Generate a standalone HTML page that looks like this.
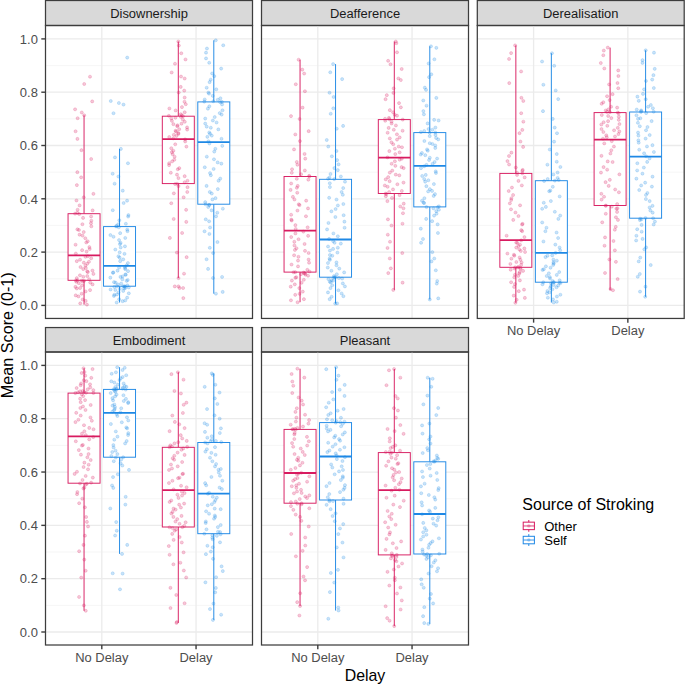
<!DOCTYPE html>
<html><head><meta charset="utf-8"><title>Boxplot</title>
<style>
html,body{margin:0;padding:0;background:#fff;}
svg{display:block;}
text{font-family:"Liberation Sans",sans-serif;}
</style></head><body>
<svg width="685" height="685" viewBox="0 0 685 685">
<rect x="0" y="0" width="685" height="685" fill="#fff"/>

<rect x="45.5" y="0.5" width="207" height="25" fill="#D9D9D9" stroke="#3d3d3d" stroke-width="1.25"/>
<text transform="translate(149,18) scale(1,1.045)" font-size="12.95" fill="#1A1A1A" text-anchor="middle">Disownership</text>
<line x1="45.5" x2="252.5" y1="278.75" y2="278.75" stroke="#F2F2F2" stroke-width="0.7"/>
<line x1="45.5" x2="252.5" y1="225.45" y2="225.45" stroke="#F2F2F2" stroke-width="0.7"/>
<line x1="45.5" x2="252.5" y1="172.15" y2="172.15" stroke="#F2F2F2" stroke-width="0.7"/>
<line x1="45.5" x2="252.5" y1="118.85" y2="118.85" stroke="#F2F2F2" stroke-width="0.7"/>
<line x1="45.5" x2="252.5" y1="65.55" y2="65.55" stroke="#F2F2F2" stroke-width="0.7"/>
<line x1="45.5" x2="252.5" y1="305.4" y2="305.4" stroke="#EBEBEB" stroke-width="1.3"/>
<line x1="45.5" x2="252.5" y1="252.1" y2="252.1" stroke="#EBEBEB" stroke-width="1.3"/>
<line x1="45.5" x2="252.5" y1="198.8" y2="198.8" stroke="#EBEBEB" stroke-width="1.3"/>
<line x1="45.5" x2="252.5" y1="145.5" y2="145.5" stroke="#EBEBEB" stroke-width="1.3"/>
<line x1="45.5" x2="252.5" y1="92.2" y2="92.2" stroke="#EBEBEB" stroke-width="1.3"/>
<line x1="45.5" x2="252.5" y1="38.9" y2="38.9" stroke="#EBEBEB" stroke-width="1.3"/>
<line x1="101.8" x2="101.8" y1="25.5" y2="318.45" stroke="#EBEBEB" stroke-width="1.3"/>
<line x1="196.05" x2="196.05" y1="25.5" y2="318.45" stroke="#EBEBEB" stroke-width="1.3"/>
<g stroke="#D81B60" fill="none" stroke-width="0.95">
<line x1="84.05" x2="84.05" y1="115.3" y2="213.7"/>
<line x1="84.05" x2="84.05" y1="280.3" y2="304.6"/>
<rect x="68.05" y="213.7" width="32" height="66.6" fill="#fff"/>
<line x1="68.05" x2="100.05" y1="255.3" y2="255.3" stroke-width="1.8"/>
</g>
<g stroke="#1E88E5" fill="none" stroke-width="0.95">
<line x1="119.55" x2="119.55" y1="148.9" y2="226.6"/>
<line x1="119.55" x2="119.55" y1="286.2" y2="302.5"/>
<rect x="103.55" y="226.6" width="32" height="59.6" fill="#fff"/>
<line x1="103.55" x2="135.55" y1="265.9" y2="265.9" stroke-width="1.8"/>
</g>
<g stroke="#D81B60" fill="none" stroke-width="0.95">
<line x1="178.3" x2="178.3" y1="41.5" y2="116.2"/>
<line x1="178.3" x2="178.3" y1="183.6" y2="278.1"/>
<rect x="162.3" y="116.2" width="32" height="67.4" fill="#fff"/>
<line x1="162.3" x2="194.3" y1="139.1" y2="139.1" stroke-width="1.8"/>
</g>
<g stroke="#1E88E5" fill="none" stroke-width="0.95">
<line x1="213.8" x2="213.8" y1="40.3" y2="101.9"/>
<line x1="213.8" x2="213.8" y1="204.2" y2="293.7"/>
<rect x="197.8" y="101.9" width="32" height="102.3" fill="#fff"/>
<line x1="197.8" x2="229.8" y1="142.2" y2="142.2" stroke-width="1.8"/>
</g>
<g fill="#D81B60" fill-opacity="0.24" stroke="#D81B60" stroke-opacity="0.3" stroke-width="0.6">
<circle cx="77.42" cy="280.31" r="1.55"/>
<circle cx="75.93" cy="280.45" r="1.55"/>
<circle cx="81.5" cy="280.65" r="1.55"/>
<circle cx="84.19" cy="280.83" r="1.55"/>
<circle cx="82.79" cy="281.22" r="1.55"/>
<circle cx="76.27" cy="281.74" r="1.55"/>
<circle cx="90.26" cy="282.58" r="1.55"/>
<circle cx="78.79" cy="283.13" r="1.55"/>
<circle cx="92.56" cy="284.39" r="1.55"/>
<circle cx="82.09" cy="285.35" r="1.55"/>
<circle cx="75.44" cy="286.88" r="1.55"/>
<circle cx="80.05" cy="288" r="1.55"/>
<circle cx="76.79" cy="288.47" r="1.55"/>
<circle cx="90.06" cy="290.09" r="1.55"/>
<circle cx="85.6" cy="291.43" r="1.55"/>
<circle cx="81.63" cy="293.75" r="1.55"/>
<circle cx="75.74" cy="295.38" r="1.55"/>
<circle cx="78.46" cy="296.42" r="1.55"/>
<circle cx="82.67" cy="299.49" r="1.55"/>
<circle cx="85.68" cy="300.89" r="1.55"/>
<circle cx="80.25" cy="303.36" r="1.55"/>
<circle cx="87.83" cy="256.21" r="1.55"/>
<circle cx="85.46" cy="256.81" r="1.55"/>
<circle cx="91.18" cy="258.3" r="1.55"/>
<circle cx="80.02" cy="259.71" r="1.55"/>
<circle cx="76.79" cy="261.17" r="1.55"/>
<circle cx="88.94" cy="261.76" r="1.55"/>
<circle cx="83.84" cy="262.67" r="1.55"/>
<circle cx="87.25" cy="263.73" r="1.55"/>
<circle cx="85.44" cy="265.7" r="1.55"/>
<circle cx="80.51" cy="267.01" r="1.55"/>
<circle cx="85.84" cy="268.01" r="1.55"/>
<circle cx="83.22" cy="269.08" r="1.55"/>
<circle cx="92.5" cy="270.55" r="1.55"/>
<circle cx="87.17" cy="271.34" r="1.55"/>
<circle cx="87.88" cy="272.09" r="1.55"/>
<circle cx="93.42" cy="273.91" r="1.55"/>
<circle cx="79.96" cy="275.29" r="1.55"/>
<circle cx="87.25" cy="276.01" r="1.55"/>
<circle cx="83.32" cy="276.81" r="1.55"/>
<circle cx="76.77" cy="278.16" r="1.55"/>
<circle cx="89.15" cy="279.23" r="1.55"/>
<circle cx="79.25" cy="214.03" r="1.55"/>
<circle cx="91.11" cy="216.48" r="1.55"/>
<circle cx="83.08" cy="217.9" r="1.55"/>
<circle cx="91.33" cy="220.72" r="1.55"/>
<circle cx="90.97" cy="223.18" r="1.55"/>
<circle cx="82.44" cy="224.2" r="1.55"/>
<circle cx="91.35" cy="226.32" r="1.55"/>
<circle cx="77.42" cy="229.37" r="1.55"/>
<circle cx="78.96" cy="229.96" r="1.55"/>
<circle cx="83.76" cy="232.04" r="1.55"/>
<circle cx="79.54" cy="234.66" r="1.55"/>
<circle cx="82.51" cy="235.6" r="1.55"/>
<circle cx="85.31" cy="238.23" r="1.55"/>
<circle cx="87.67" cy="241.25" r="1.55"/>
<circle cx="86.28" cy="242.45" r="1.55"/>
<circle cx="75.58" cy="244.72" r="1.55"/>
<circle cx="89.37" cy="247.1" r="1.55"/>
<circle cx="89.71" cy="249.03" r="1.55"/>
<circle cx="82.13" cy="250.16" r="1.55"/>
<circle cx="86.6" cy="251.62" r="1.55"/>
<circle cx="75.83" cy="253.53" r="1.55"/>
<circle cx="77.63" cy="118.2" r="1.55"/>
<circle cx="75.55" cy="131.27" r="1.55"/>
<circle cx="77.42" cy="138.9" r="1.55"/>
<circle cx="81.46" cy="150.15" r="1.55"/>
<circle cx="91.16" cy="159.02" r="1.55"/>
<circle cx="77.37" cy="172.15" r="1.55"/>
<circle cx="81.15" cy="177.36" r="1.55"/>
<circle cx="76.88" cy="185.12" r="1.55"/>
<circle cx="93.42" cy="193.85" r="1.55"/>
<circle cx="83.74" cy="197.31" r="1.55"/>
<circle cx="76.49" cy="200.44" r="1.55"/>
<circle cx="79.58" cy="205.42" r="1.55"/>
<circle cx="77.62" cy="209.75" r="1.55"/>
<circle cx="92.62" cy="210.4" r="1.55"/>
<circle cx="77.34" cy="212.86" r="1.55"/>
<circle cx="75.06" cy="213.62" r="1.55"/>
<circle cx="84.22" cy="115.3" r="1.55"/>
<circle cx="86.92" cy="304.6" r="1.55"/>
<circle cx="90" cy="76.7" r="1.55"/>
<circle cx="84.2" cy="84" r="1.55"/>
<circle cx="92.2" cy="101.4" r="1.55"/>
<circle cx="75.1" cy="109.3" r="1.55"/>
<circle cx="81.8" cy="112.5" r="1.55"/>
</g>
<g fill="#1E88E5" fill-opacity="0.24" stroke="#1E88E5" stroke-opacity="0.3" stroke-width="0.6">
<circle cx="123.28" cy="286.23" r="1.55"/>
<circle cx="117.02" cy="286.26" r="1.55"/>
<circle cx="124.72" cy="286.38" r="1.55"/>
<circle cx="124.85" cy="286.66" r="1.55"/>
<circle cx="114.29" cy="286.9" r="1.55"/>
<circle cx="128.76" cy="287.43" r="1.55"/>
<circle cx="125.37" cy="287.92" r="1.55"/>
<circle cx="124.11" cy="288.44" r="1.55"/>
<circle cx="119.89" cy="288.72" r="1.55"/>
<circle cx="110.6" cy="289.45" r="1.55"/>
<circle cx="115.36" cy="289.95" r="1.55"/>
<circle cx="123.21" cy="290.91" r="1.55"/>
<circle cx="118.55" cy="292.36" r="1.55"/>
<circle cx="128.82" cy="293.33" r="1.55"/>
<circle cx="116.98" cy="294.42" r="1.55"/>
<circle cx="114.36" cy="294.79" r="1.55"/>
<circle cx="113.93" cy="295.93" r="1.55"/>
<circle cx="127.16" cy="297.66" r="1.55"/>
<circle cx="119.16" cy="299.27" r="1.55"/>
<circle cx="125.24" cy="300.45" r="1.55"/>
<circle cx="122.6" cy="301.17" r="1.55"/>
<circle cx="124.91" cy="266.74" r="1.55"/>
<circle cx="119.13" cy="267.57" r="1.55"/>
<circle cx="125.04" cy="268.04" r="1.55"/>
<circle cx="125.27" cy="269.14" r="1.55"/>
<circle cx="117.57" cy="270.66" r="1.55"/>
<circle cx="128.04" cy="271.13" r="1.55"/>
<circle cx="113.28" cy="272.38" r="1.55"/>
<circle cx="112.92" cy="272.83" r="1.55"/>
<circle cx="125.37" cy="274.47" r="1.55"/>
<circle cx="125.75" cy="274.78" r="1.55"/>
<circle cx="122.54" cy="276.47" r="1.55"/>
<circle cx="120.47" cy="276.89" r="1.55"/>
<circle cx="110.32" cy="277.66" r="1.55"/>
<circle cx="122.39" cy="279.36" r="1.55"/>
<circle cx="127.79" cy="279.94" r="1.55"/>
<circle cx="126.61" cy="280.83" r="1.55"/>
<circle cx="114.06" cy="282.13" r="1.55"/>
<circle cx="115.62" cy="282.6" r="1.55"/>
<circle cx="121.19" cy="283.56" r="1.55"/>
<circle cx="118.01" cy="284.54" r="1.55"/>
<circle cx="127.34" cy="285.4" r="1.55"/>
<circle cx="118.76" cy="227.29" r="1.55"/>
<circle cx="127.23" cy="229.55" r="1.55"/>
<circle cx="127.49" cy="231.14" r="1.55"/>
<circle cx="120.15" cy="233.15" r="1.55"/>
<circle cx="110.41" cy="235.06" r="1.55"/>
<circle cx="113.53" cy="236.79" r="1.55"/>
<circle cx="125.23" cy="237.93" r="1.55"/>
<circle cx="119.05" cy="240.08" r="1.55"/>
<circle cx="120.62" cy="242.89" r="1.55"/>
<circle cx="119.9" cy="244.09" r="1.55"/>
<circle cx="124.95" cy="246.34" r="1.55"/>
<circle cx="120.7" cy="247.46" r="1.55"/>
<circle cx="115.31" cy="249.57" r="1.55"/>
<circle cx="119.7" cy="252.32" r="1.55"/>
<circle cx="124.49" cy="253.84" r="1.55"/>
<circle cx="118.47" cy="256.3" r="1.55"/>
<circle cx="119.66" cy="257.67" r="1.55"/>
<circle cx="123.21" cy="259.37" r="1.55"/>
<circle cx="120.18" cy="261.14" r="1.55"/>
<circle cx="127.94" cy="263.06" r="1.55"/>
<circle cx="126.7" cy="265.3" r="1.55"/>
<circle cx="114.98" cy="157.38" r="1.55"/>
<circle cx="127.97" cy="163.26" r="1.55"/>
<circle cx="112.66" cy="173.76" r="1.55"/>
<circle cx="118.45" cy="176.56" r="1.55"/>
<circle cx="114.62" cy="183.73" r="1.55"/>
<circle cx="122.77" cy="190.64" r="1.55"/>
<circle cx="127.09" cy="200.66" r="1.55"/>
<circle cx="123.66" cy="203.04" r="1.55"/>
<circle cx="112.77" cy="210.18" r="1.55"/>
<circle cx="128.43" cy="215.1" r="1.55"/>
<circle cx="128.15" cy="216.56" r="1.55"/>
<circle cx="119.31" cy="220.2" r="1.55"/>
<circle cx="125.87" cy="223.76" r="1.55"/>
<circle cx="118.25" cy="224.21" r="1.55"/>
<circle cx="116.49" cy="225.93" r="1.55"/>
<circle cx="116.1" cy="226.42" r="1.55"/>
<circle cx="120.88" cy="148.9" r="1.55"/>
<circle cx="116.67" cy="302.5" r="1.55"/>
<circle cx="127.2" cy="57.6" r="1.55"/>
<circle cx="110.8" cy="101" r="1.55"/>
<circle cx="118.9" cy="103" r="1.55"/>
<circle cx="123.5" cy="104.6" r="1.55"/>
<circle cx="113.5" cy="113.2" r="1.55"/>
</g>
<g fill="#D81B60" fill-opacity="0.24" stroke="#D81B60" stroke-opacity="0.3" stroke-width="0.6">
<circle cx="177.17" cy="183.71" r="1.55"/>
<circle cx="175.1" cy="184.02" r="1.55"/>
<circle cx="178.53" cy="186.12" r="1.55"/>
<circle cx="187.52" cy="187.17" r="1.55"/>
<circle cx="187.26" cy="191.96" r="1.55"/>
<circle cx="173.85" cy="193.37" r="1.55"/>
<circle cx="183.6" cy="197.27" r="1.55"/>
<circle cx="171.26" cy="203.24" r="1.55"/>
<circle cx="186.12" cy="209.83" r="1.55"/>
<circle cx="173.71" cy="218.96" r="1.55"/>
<circle cx="186.26" cy="221.89" r="1.55"/>
<circle cx="182.11" cy="232.96" r="1.55"/>
<circle cx="169.89" cy="237.92" r="1.55"/>
<circle cx="176.88" cy="252.57" r="1.55"/>
<circle cx="186.63" cy="257.15" r="1.55"/>
<circle cx="184.03" cy="273.68" r="1.55"/>
<circle cx="185.07" cy="139.37" r="1.55"/>
<circle cx="185.19" cy="141.45" r="1.55"/>
<circle cx="175.24" cy="144.31" r="1.55"/>
<circle cx="186.41" cy="146.62" r="1.55"/>
<circle cx="171.26" cy="148.19" r="1.55"/>
<circle cx="173.33" cy="150.81" r="1.55"/>
<circle cx="171.87" cy="152.13" r="1.55"/>
<circle cx="172.63" cy="154.14" r="1.55"/>
<circle cx="174.6" cy="156.75" r="1.55"/>
<circle cx="174.31" cy="159.73" r="1.55"/>
<circle cx="172.18" cy="161.35" r="1.55"/>
<circle cx="169.15" cy="163.18" r="1.55"/>
<circle cx="169.09" cy="165.11" r="1.55"/>
<circle cx="179.27" cy="168.15" r="1.55"/>
<circle cx="177.82" cy="169.23" r="1.55"/>
<circle cx="170.82" cy="172.77" r="1.55"/>
<circle cx="177.01" cy="174.67" r="1.55"/>
<circle cx="184.66" cy="176.17" r="1.55"/>
<circle cx="178.43" cy="178.1" r="1.55"/>
<circle cx="187.47" cy="180.78" r="1.55"/>
<circle cx="184.61" cy="182.24" r="1.55"/>
<circle cx="180.88" cy="116.95" r="1.55"/>
<circle cx="175.4" cy="117.74" r="1.55"/>
<circle cx="171.27" cy="118.49" r="1.55"/>
<circle cx="182.88" cy="119.6" r="1.55"/>
<circle cx="171.9" cy="120.87" r="1.55"/>
<circle cx="184.78" cy="121.79" r="1.55"/>
<circle cx="181.54" cy="123.65" r="1.55"/>
<circle cx="173.4" cy="124.16" r="1.55"/>
<circle cx="177.53" cy="125.27" r="1.55"/>
<circle cx="177.27" cy="126.22" r="1.55"/>
<circle cx="187.07" cy="127.42" r="1.55"/>
<circle cx="179.19" cy="129.2" r="1.55"/>
<circle cx="187.15" cy="129.58" r="1.55"/>
<circle cx="175.58" cy="130.73" r="1.55"/>
<circle cx="176.05" cy="131.52" r="1.55"/>
<circle cx="178.35" cy="133.08" r="1.55"/>
<circle cx="178.39" cy="133.9" r="1.55"/>
<circle cx="173.82" cy="134.8" r="1.55"/>
<circle cx="176.39" cy="135.97" r="1.55"/>
<circle cx="169.23" cy="137.01" r="1.55"/>
<circle cx="173.22" cy="138.36" r="1.55"/>
<circle cx="178.85" cy="45.55" r="1.55"/>
<circle cx="181.29" cy="53.27" r="1.55"/>
<circle cx="185.5" cy="59.44" r="1.55"/>
<circle cx="175" cy="63.73" r="1.55"/>
<circle cx="171.64" cy="72.49" r="1.55"/>
<circle cx="181.02" cy="76.56" r="1.55"/>
<circle cx="184.67" cy="78.54" r="1.55"/>
<circle cx="180.72" cy="86.92" r="1.55"/>
<circle cx="184.23" cy="90.62" r="1.55"/>
<circle cx="178.75" cy="92.52" r="1.55"/>
<circle cx="184.66" cy="97.54" r="1.55"/>
<circle cx="184.5" cy="101.78" r="1.55"/>
<circle cx="185.76" cy="104.18" r="1.55"/>
<circle cx="181.97" cy="107.09" r="1.55"/>
<circle cx="169.39" cy="108.5" r="1.55"/>
<circle cx="175.65" cy="110.44" r="1.55"/>
<circle cx="184.68" cy="112.21" r="1.55"/>
<circle cx="180.73" cy="114.19" r="1.55"/>
<circle cx="181.73" cy="115.24" r="1.55"/>
<circle cx="168.86" cy="115.81" r="1.55"/>
<circle cx="183.02" cy="116.19" r="1.55"/>
<circle cx="178.32" cy="41.5" r="1.55"/>
<circle cx="178.51" cy="278.1" r="1.55"/>
<circle cx="174.8" cy="286.4" r="1.55"/>
<circle cx="178.5" cy="286.4" r="1.55"/>
<circle cx="179.6" cy="288" r="1.55"/>
<circle cx="183.1" cy="288" r="1.55"/>
<circle cx="183.3" cy="298.1" r="1.55"/>
</g>
<g fill="#1E88E5" fill-opacity="0.24" stroke="#1E88E5" stroke-opacity="0.3" stroke-width="0.6">
<circle cx="205.55" cy="204.28" r="1.55"/>
<circle cx="209.09" cy="204.8" r="1.55"/>
<circle cx="209.35" cy="205.11" r="1.55"/>
<circle cx="208.2" cy="206.99" r="1.55"/>
<circle cx="222.84" cy="208.71" r="1.55"/>
<circle cx="211.57" cy="210.33" r="1.55"/>
<circle cx="217.29" cy="212.72" r="1.55"/>
<circle cx="216.02" cy="216.36" r="1.55"/>
<circle cx="205.77" cy="219.31" r="1.55"/>
<circle cx="209.12" cy="221.31" r="1.55"/>
<circle cx="210.08" cy="227.52" r="1.55"/>
<circle cx="204.54" cy="231.33" r="1.55"/>
<circle cx="209.41" cy="233.94" r="1.55"/>
<circle cx="217.45" cy="242.04" r="1.55"/>
<circle cx="209.83" cy="247.81" r="1.55"/>
<circle cx="213.13" cy="253.05" r="1.55"/>
<circle cx="206.55" cy="259.25" r="1.55"/>
<circle cx="208.09" cy="268.89" r="1.55"/>
<circle cx="222.09" cy="276.93" r="1.55"/>
<circle cx="213.02" cy="277.97" r="1.55"/>
<circle cx="222.69" cy="291.9" r="1.55"/>
<circle cx="209.4" cy="143.54" r="1.55"/>
<circle cx="222.27" cy="145.86" r="1.55"/>
<circle cx="215.35" cy="148.81" r="1.55"/>
<circle cx="214.26" cy="151.58" r="1.55"/>
<circle cx="206.82" cy="156.69" r="1.55"/>
<circle cx="213.97" cy="159.29" r="1.55"/>
<circle cx="217.66" cy="162.42" r="1.55"/>
<circle cx="221.36" cy="163.63" r="1.55"/>
<circle cx="204.77" cy="167.26" r="1.55"/>
<circle cx="213.64" cy="168.93" r="1.55"/>
<circle cx="210.04" cy="173.07" r="1.55"/>
<circle cx="210.84" cy="175.2" r="1.55"/>
<circle cx="220.26" cy="178.62" r="1.55"/>
<circle cx="218.56" cy="180.73" r="1.55"/>
<circle cx="206.58" cy="185.91" r="1.55"/>
<circle cx="217.85" cy="189.09" r="1.55"/>
<circle cx="209.81" cy="191.98" r="1.55"/>
<circle cx="211.77" cy="193.53" r="1.55"/>
<circle cx="215.49" cy="198.14" r="1.55"/>
<circle cx="212.43" cy="199.4" r="1.55"/>
<circle cx="205.22" cy="202.13" r="1.55"/>
<circle cx="220.16" cy="102.17" r="1.55"/>
<circle cx="222.08" cy="104.41" r="1.55"/>
<circle cx="209.35" cy="106.26" r="1.55"/>
<circle cx="207.91" cy="108.64" r="1.55"/>
<circle cx="222.47" cy="110.32" r="1.55"/>
<circle cx="219.73" cy="113.12" r="1.55"/>
<circle cx="221.66" cy="114.6" r="1.55"/>
<circle cx="214.74" cy="117.05" r="1.55"/>
<circle cx="205.24" cy="118.59" r="1.55"/>
<circle cx="212.87" cy="120.53" r="1.55"/>
<circle cx="216.55" cy="122.49" r="1.55"/>
<circle cx="205.23" cy="123.6" r="1.55"/>
<circle cx="206.72" cy="126.63" r="1.55"/>
<circle cx="210.83" cy="127.76" r="1.55"/>
<circle cx="218.34" cy="129.38" r="1.55"/>
<circle cx="209.24" cy="132.47" r="1.55"/>
<circle cx="210.02" cy="133.83" r="1.55"/>
<circle cx="211.79" cy="135.58" r="1.55"/>
<circle cx="207.37" cy="136.83" r="1.55"/>
<circle cx="221.51" cy="138.82" r="1.55"/>
<circle cx="208.48" cy="141.24" r="1.55"/>
<circle cx="223.23" cy="45.27" r="1.55"/>
<circle cx="206.95" cy="48.54" r="1.55"/>
<circle cx="206.02" cy="52.65" r="1.55"/>
<circle cx="206.03" cy="58.42" r="1.55"/>
<circle cx="209.21" cy="62.78" r="1.55"/>
<circle cx="221.16" cy="68.61" r="1.55"/>
<circle cx="212.14" cy="73.43" r="1.55"/>
<circle cx="214.26" cy="76.15" r="1.55"/>
<circle cx="210.73" cy="79.69" r="1.55"/>
<circle cx="209.57" cy="82.14" r="1.55"/>
<circle cx="206.69" cy="87.71" r="1.55"/>
<circle cx="216.26" cy="89.3" r="1.55"/>
<circle cx="208.4" cy="92.57" r="1.55"/>
<circle cx="209.02" cy="93.61" r="1.55"/>
<circle cx="212.77" cy="95.83" r="1.55"/>
<circle cx="220.42" cy="98.28" r="1.55"/>
<circle cx="204.71" cy="99.48" r="1.55"/>
<circle cx="217.78" cy="99.75" r="1.55"/>
<circle cx="213.29" cy="101.26" r="1.55"/>
<circle cx="204.3" cy="101.62" r="1.55"/>
<circle cx="221.91" cy="101.85" r="1.55"/>
<circle cx="215.75" cy="40.3" r="1.55"/>
<circle cx="215.93" cy="293.7" r="1.55"/>
</g>
<rect x="45.5" y="25.5" width="207" height="292.95" fill="none" stroke="#3d3d3d" stroke-width="1.25"/>
<line x1="41.3" x2="45.5" y1="305.4" y2="305.4" stroke="#3d3d3d" stroke-width="1.4"/>
<text transform="translate(37.9,310.1) scale(1,1.045)" font-size="13.0" fill="#4D4D4D" text-anchor="end">0.0</text>
<line x1="41.3" x2="45.5" y1="252.1" y2="252.1" stroke="#3d3d3d" stroke-width="1.4"/>
<text transform="translate(37.9,256.8) scale(1,1.045)" font-size="13.0" fill="#4D4D4D" text-anchor="end">0.2</text>
<line x1="41.3" x2="45.5" y1="198.8" y2="198.8" stroke="#3d3d3d" stroke-width="1.4"/>
<text transform="translate(37.9,203.5) scale(1,1.045)" font-size="13.0" fill="#4D4D4D" text-anchor="end">0.4</text>
<line x1="41.3" x2="45.5" y1="145.5" y2="145.5" stroke="#3d3d3d" stroke-width="1.4"/>
<text transform="translate(37.9,150.2) scale(1,1.045)" font-size="13.0" fill="#4D4D4D" text-anchor="end">0.6</text>
<line x1="41.3" x2="45.5" y1="92.2" y2="92.2" stroke="#3d3d3d" stroke-width="1.4"/>
<text transform="translate(37.9,96.9) scale(1,1.045)" font-size="13.0" fill="#4D4D4D" text-anchor="end">0.8</text>
<line x1="41.3" x2="45.5" y1="38.9" y2="38.9" stroke="#3d3d3d" stroke-width="1.4"/>
<text transform="translate(37.9,43.6) scale(1,1.045)" font-size="13.0" fill="#4D4D4D" text-anchor="end">1.0</text>
<rect x="261.5" y="0.5" width="207" height="25" fill="#D9D9D9" stroke="#3d3d3d" stroke-width="1.25"/>
<text transform="translate(365,18) scale(1,1.045)" font-size="12.95" fill="#1A1A1A" text-anchor="middle">Deafference</text>
<line x1="261.5" x2="468.5" y1="278.75" y2="278.75" stroke="#F2F2F2" stroke-width="0.7"/>
<line x1="261.5" x2="468.5" y1="225.45" y2="225.45" stroke="#F2F2F2" stroke-width="0.7"/>
<line x1="261.5" x2="468.5" y1="172.15" y2="172.15" stroke="#F2F2F2" stroke-width="0.7"/>
<line x1="261.5" x2="468.5" y1="118.85" y2="118.85" stroke="#F2F2F2" stroke-width="0.7"/>
<line x1="261.5" x2="468.5" y1="65.55" y2="65.55" stroke="#F2F2F2" stroke-width="0.7"/>
<line x1="261.5" x2="468.5" y1="305.4" y2="305.4" stroke="#EBEBEB" stroke-width="1.3"/>
<line x1="261.5" x2="468.5" y1="252.1" y2="252.1" stroke="#EBEBEB" stroke-width="1.3"/>
<line x1="261.5" x2="468.5" y1="198.8" y2="198.8" stroke="#EBEBEB" stroke-width="1.3"/>
<line x1="261.5" x2="468.5" y1="145.5" y2="145.5" stroke="#EBEBEB" stroke-width="1.3"/>
<line x1="261.5" x2="468.5" y1="92.2" y2="92.2" stroke="#EBEBEB" stroke-width="1.3"/>
<line x1="261.5" x2="468.5" y1="38.9" y2="38.9" stroke="#EBEBEB" stroke-width="1.3"/>
<line x1="317.8" x2="317.8" y1="25.5" y2="318.45" stroke="#EBEBEB" stroke-width="1.3"/>
<line x1="412.05" x2="412.05" y1="25.5" y2="318.45" stroke="#EBEBEB" stroke-width="1.3"/>
<g stroke="#D81B60" fill="none" stroke-width="0.95">
<line x1="300.05" x2="300.05" y1="59.7" y2="176.5"/>
<line x1="300.05" x2="300.05" y1="272.1" y2="302.2"/>
<rect x="284.05" y="176.5" width="32" height="95.6" fill="#fff"/>
<line x1="284.05" x2="316.05" y1="230.6" y2="230.6" stroke-width="1.8"/>
</g>
<g stroke="#1E88E5" fill="none" stroke-width="0.95">
<line x1="335.55" x2="335.55" y1="64.1" y2="179.3"/>
<line x1="335.55" x2="335.55" y1="277.2" y2="303.6"/>
<rect x="319.55" y="179.3" width="32" height="97.9" fill="#fff"/>
<line x1="319.55" x2="351.55" y1="239.5" y2="239.5" stroke-width="1.8"/>
</g>
<g stroke="#D81B60" fill="none" stroke-width="0.95">
<line x1="394.3" x2="394.3" y1="41.5" y2="119.6"/>
<line x1="394.3" x2="394.3" y1="193.5" y2="289.9"/>
<rect x="378.3" y="119.6" width="32" height="73.9" fill="#fff"/>
<line x1="378.3" x2="410.3" y1="157.6" y2="157.6" stroke-width="1.8"/>
</g>
<g stroke="#1E88E5" fill="none" stroke-width="0.95">
<line x1="429.8" x2="429.8" y1="46.3" y2="132.6"/>
<line x1="429.8" x2="429.8" y1="206.9" y2="299.5"/>
<rect x="413.8" y="132.6" width="32" height="74.3" fill="#fff"/>
<line x1="413.8" x2="445.8" y1="165.9" y2="165.9" stroke-width="1.8"/>
</g>
<g fill="#D81B60" fill-opacity="0.24" stroke="#D81B60" stroke-opacity="0.3" stroke-width="0.6">
<circle cx="295.27" cy="272.16" r="1.55"/>
<circle cx="293.48" cy="272.19" r="1.55"/>
<circle cx="303.51" cy="272.53" r="1.55"/>
<circle cx="304.26" cy="273.14" r="1.55"/>
<circle cx="305.08" cy="273.56" r="1.55"/>
<circle cx="301.03" cy="274.14" r="1.55"/>
<circle cx="305.41" cy="274.63" r="1.55"/>
<circle cx="308.03" cy="275.7" r="1.55"/>
<circle cx="296.32" cy="277.18" r="1.55"/>
<circle cx="295.33" cy="277.83" r="1.55"/>
<circle cx="303.82" cy="279.8" r="1.55"/>
<circle cx="291.89" cy="280.59" r="1.55"/>
<circle cx="301.62" cy="282.8" r="1.55"/>
<circle cx="294.8" cy="284.35" r="1.55"/>
<circle cx="290.75" cy="286.63" r="1.55"/>
<circle cx="299.3" cy="288.12" r="1.55"/>
<circle cx="302.8" cy="291.62" r="1.55"/>
<circle cx="299.58" cy="293.84" r="1.55"/>
<circle cx="295.24" cy="294.86" r="1.55"/>
<circle cx="303.94" cy="299.17" r="1.55"/>
<circle cx="290.96" cy="300.3" r="1.55"/>
<circle cx="303.36" cy="231.59" r="1.55"/>
<circle cx="295.44" cy="233.42" r="1.55"/>
<circle cx="308.13" cy="235.84" r="1.55"/>
<circle cx="291.2" cy="237.03" r="1.55"/>
<circle cx="298.54" cy="239.2" r="1.55"/>
<circle cx="294.31" cy="241.79" r="1.55"/>
<circle cx="304.59" cy="243.97" r="1.55"/>
<circle cx="294.45" cy="245.43" r="1.55"/>
<circle cx="296.47" cy="248.23" r="1.55"/>
<circle cx="294.94" cy="249.94" r="1.55"/>
<circle cx="305" cy="250.85" r="1.55"/>
<circle cx="308.64" cy="252.96" r="1.55"/>
<circle cx="294.11" cy="255.29" r="1.55"/>
<circle cx="298.47" cy="256.79" r="1.55"/>
<circle cx="308.58" cy="259.55" r="1.55"/>
<circle cx="298.03" cy="260.6" r="1.55"/>
<circle cx="309.06" cy="262.7" r="1.55"/>
<circle cx="291.53" cy="264.55" r="1.55"/>
<circle cx="298.02" cy="266.38" r="1.55"/>
<circle cx="307.34" cy="269.84" r="1.55"/>
<circle cx="309.5" cy="271.53" r="1.55"/>
<circle cx="296.81" cy="178.79" r="1.55"/>
<circle cx="308.33" cy="179.64" r="1.55"/>
<circle cx="291.16" cy="183.51" r="1.55"/>
<circle cx="297.74" cy="185.9" r="1.55"/>
<circle cx="296.85" cy="187.8" r="1.55"/>
<circle cx="290.6" cy="189.9" r="1.55"/>
<circle cx="297.23" cy="192.73" r="1.55"/>
<circle cx="292.9" cy="196.88" r="1.55"/>
<circle cx="294.49" cy="199.47" r="1.55"/>
<circle cx="306.16" cy="200.64" r="1.55"/>
<circle cx="298.77" cy="204.3" r="1.55"/>
<circle cx="299.55" cy="205.08" r="1.55"/>
<circle cx="308.02" cy="208.41" r="1.55"/>
<circle cx="297.47" cy="210.57" r="1.55"/>
<circle cx="291.13" cy="214.78" r="1.55"/>
<circle cx="305.97" cy="216.22" r="1.55"/>
<circle cx="291.32" cy="219.63" r="1.55"/>
<circle cx="291.74" cy="220.5" r="1.55"/>
<circle cx="295.43" cy="225.13" r="1.55"/>
<circle cx="307.62" cy="227.31" r="1.55"/>
<circle cx="295.72" cy="228.94" r="1.55"/>
<circle cx="302.27" cy="69.62" r="1.55"/>
<circle cx="304.17" cy="73.57" r="1.55"/>
<circle cx="295.79" cy="84.23" r="1.55"/>
<circle cx="304.91" cy="91.2" r="1.55"/>
<circle cx="302.6" cy="107.63" r="1.55"/>
<circle cx="291.01" cy="116.1" r="1.55"/>
<circle cx="299.58" cy="118.96" r="1.55"/>
<circle cx="308.67" cy="131.13" r="1.55"/>
<circle cx="295.32" cy="134.44" r="1.55"/>
<circle cx="299.93" cy="141.09" r="1.55"/>
<circle cx="294.03" cy="149.4" r="1.55"/>
<circle cx="304.58" cy="153.95" r="1.55"/>
<circle cx="305.23" cy="158.65" r="1.55"/>
<circle cx="296.78" cy="161.98" r="1.55"/>
<circle cx="297.43" cy="164.74" r="1.55"/>
<circle cx="292.05" cy="169.21" r="1.55"/>
<circle cx="304.85" cy="170.47" r="1.55"/>
<circle cx="291.78" cy="172.82" r="1.55"/>
<circle cx="301.05" cy="174.24" r="1.55"/>
<circle cx="309.17" cy="175.77" r="1.55"/>
<circle cx="309.32" cy="176.49" r="1.55"/>
<circle cx="298.64" cy="59.7" r="1.55"/>
<circle cx="297.55" cy="302.2" r="1.55"/>
</g>
<g fill="#1E88E5" fill-opacity="0.24" stroke="#1E88E5" stroke-opacity="0.3" stroke-width="0.6">
<circle cx="335.52" cy="277.2" r="1.55"/>
<circle cx="334.54" cy="277.37" r="1.55"/>
<circle cx="333.97" cy="277.51" r="1.55"/>
<circle cx="338.86" cy="277.98" r="1.55"/>
<circle cx="342.14" cy="278.54" r="1.55"/>
<circle cx="328.35" cy="279.11" r="1.55"/>
<circle cx="331.63" cy="279.97" r="1.55"/>
<circle cx="333.14" cy="280.62" r="1.55"/>
<circle cx="329.83" cy="281.75" r="1.55"/>
<circle cx="330.71" cy="282.35" r="1.55"/>
<circle cx="342.85" cy="283.41" r="1.55"/>
<circle cx="332.25" cy="285.21" r="1.55"/>
<circle cx="344.91" cy="286.41" r="1.55"/>
<circle cx="330.45" cy="288.12" r="1.55"/>
<circle cx="338.46" cy="290.27" r="1.55"/>
<circle cx="327.99" cy="292.41" r="1.55"/>
<circle cx="341.61" cy="293.45" r="1.55"/>
<circle cx="343.42" cy="296.18" r="1.55"/>
<circle cx="331.63" cy="296.78" r="1.55"/>
<circle cx="329.65" cy="299.17" r="1.55"/>
<circle cx="337.13" cy="303.41" r="1.55"/>
<circle cx="333.12" cy="241.09" r="1.55"/>
<circle cx="334.58" cy="242.78" r="1.55"/>
<circle cx="340.83" cy="243.6" r="1.55"/>
<circle cx="328.06" cy="246.5" r="1.55"/>
<circle cx="337.83" cy="247.73" r="1.55"/>
<circle cx="333.06" cy="248.92" r="1.55"/>
<circle cx="329.93" cy="250.59" r="1.55"/>
<circle cx="337.44" cy="252.57" r="1.55"/>
<circle cx="329.92" cy="255" r="1.55"/>
<circle cx="332.27" cy="255.77" r="1.55"/>
<circle cx="329.57" cy="258.64" r="1.55"/>
<circle cx="329.91" cy="259.84" r="1.55"/>
<circle cx="336.46" cy="262.42" r="1.55"/>
<circle cx="327.98" cy="263.03" r="1.55"/>
<circle cx="336.5" cy="265.36" r="1.55"/>
<circle cx="327.78" cy="267.55" r="1.55"/>
<circle cx="339.26" cy="268.58" r="1.55"/>
<circle cx="331.43" cy="270.77" r="1.55"/>
<circle cx="344.16" cy="272.4" r="1.55"/>
<circle cx="336.81" cy="274.2" r="1.55"/>
<circle cx="333.96" cy="276.07" r="1.55"/>
<circle cx="344.99" cy="181.67" r="1.55"/>
<circle cx="329.8" cy="183.25" r="1.55"/>
<circle cx="329.92" cy="187.05" r="1.55"/>
<circle cx="343.18" cy="188.06" r="1.55"/>
<circle cx="341.64" cy="192" r="1.55"/>
<circle cx="342.82" cy="194.82" r="1.55"/>
<circle cx="329.14" cy="197.83" r="1.55"/>
<circle cx="336.53" cy="199.55" r="1.55"/>
<circle cx="343.34" cy="204.03" r="1.55"/>
<circle cx="337.87" cy="205.47" r="1.55"/>
<circle cx="335.63" cy="209.07" r="1.55"/>
<circle cx="331.43" cy="211.35" r="1.55"/>
<circle cx="343.63" cy="215.19" r="1.55"/>
<circle cx="335.37" cy="216.99" r="1.55"/>
<circle cx="344.42" cy="221.65" r="1.55"/>
<circle cx="328.46" cy="222.95" r="1.55"/>
<circle cx="344.59" cy="227.74" r="1.55"/>
<circle cx="327.06" cy="229.42" r="1.55"/>
<circle cx="333.42" cy="233.43" r="1.55"/>
<circle cx="337.84" cy="236.24" r="1.55"/>
<circle cx="329.1" cy="238.9" r="1.55"/>
<circle cx="330.27" cy="72.26" r="1.55"/>
<circle cx="342.13" cy="79.09" r="1.55"/>
<circle cx="329.53" cy="92.74" r="1.55"/>
<circle cx="333.65" cy="96.96" r="1.55"/>
<circle cx="333.34" cy="108.32" r="1.55"/>
<circle cx="330.74" cy="113.76" r="1.55"/>
<circle cx="343.1" cy="125.9" r="1.55"/>
<circle cx="336.73" cy="128.73" r="1.55"/>
<circle cx="326.77" cy="139.98" r="1.55"/>
<circle cx="328.29" cy="146.56" r="1.55"/>
<circle cx="336.5" cy="150.99" r="1.55"/>
<circle cx="331.87" cy="156.29" r="1.55"/>
<circle cx="337.12" cy="160.11" r="1.55"/>
<circle cx="338.57" cy="164.34" r="1.55"/>
<circle cx="334.38" cy="168.1" r="1.55"/>
<circle cx="337.81" cy="170.12" r="1.55"/>
<circle cx="330.52" cy="173.99" r="1.55"/>
<circle cx="340.87" cy="176.52" r="1.55"/>
<circle cx="329.46" cy="177.62" r="1.55"/>
<circle cx="328.08" cy="178.69" r="1.55"/>
<circle cx="334.23" cy="179.12" r="1.55"/>
<circle cx="333.1" cy="64.1" r="1.55"/>
<circle cx="335.2" cy="303.6" r="1.55"/>
</g>
<g fill="#D81B60" fill-opacity="0.24" stroke="#D81B60" stroke-opacity="0.3" stroke-width="0.6">
<circle cx="385.57" cy="193.56" r="1.55"/>
<circle cx="386.36" cy="194.08" r="1.55"/>
<circle cx="399.58" cy="195.11" r="1.55"/>
<circle cx="385.83" cy="196.19" r="1.55"/>
<circle cx="391.98" cy="197.93" r="1.55"/>
<circle cx="387.39" cy="201.12" r="1.55"/>
<circle cx="403.73" cy="203.67" r="1.55"/>
<circle cx="400.28" cy="206.49" r="1.55"/>
<circle cx="403.45" cy="208.29" r="1.55"/>
<circle cx="402.98" cy="213.2" r="1.55"/>
<circle cx="387.94" cy="219.35" r="1.55"/>
<circle cx="402.48" cy="223.73" r="1.55"/>
<circle cx="391.47" cy="225.55" r="1.55"/>
<circle cx="387.82" cy="234.71" r="1.55"/>
<circle cx="390.02" cy="241.75" r="1.55"/>
<circle cx="387.53" cy="247.96" r="1.55"/>
<circle cx="402.28" cy="253.03" r="1.55"/>
<circle cx="389.79" cy="258.45" r="1.55"/>
<circle cx="390.86" cy="268.36" r="1.55"/>
<circle cx="388.26" cy="273.1" r="1.55"/>
<circle cx="402.59" cy="282.65" r="1.55"/>
<circle cx="401.81" cy="158.73" r="1.55"/>
<circle cx="399.71" cy="159.65" r="1.55"/>
<circle cx="394.88" cy="161.28" r="1.55"/>
<circle cx="391.64" cy="163.79" r="1.55"/>
<circle cx="395.35" cy="165.87" r="1.55"/>
<circle cx="401.57" cy="167.13" r="1.55"/>
<circle cx="403.67" cy="168.1" r="1.55"/>
<circle cx="392.29" cy="170.62" r="1.55"/>
<circle cx="389.83" cy="172.59" r="1.55"/>
<circle cx="395.77" cy="174.6" r="1.55"/>
<circle cx="399.33" cy="175.33" r="1.55"/>
<circle cx="388.16" cy="177.17" r="1.55"/>
<circle cx="385.72" cy="179.34" r="1.55"/>
<circle cx="389.62" cy="181.17" r="1.55"/>
<circle cx="403.5" cy="182.6" r="1.55"/>
<circle cx="397.41" cy="184.23" r="1.55"/>
<circle cx="384.83" cy="185.52" r="1.55"/>
<circle cx="387.64" cy="186.8" r="1.55"/>
<circle cx="393.01" cy="189.4" r="1.55"/>
<circle cx="401.82" cy="190.96" r="1.55"/>
<circle cx="389.12" cy="192.08" r="1.55"/>
<circle cx="385.22" cy="120.75" r="1.55"/>
<circle cx="391.54" cy="121.5" r="1.55"/>
<circle cx="391.59" cy="123.48" r="1.55"/>
<circle cx="395.89" cy="125.48" r="1.55"/>
<circle cx="388.68" cy="127.89" r="1.55"/>
<circle cx="393.82" cy="129.75" r="1.55"/>
<circle cx="402.6" cy="130.77" r="1.55"/>
<circle cx="387.64" cy="132.75" r="1.55"/>
<circle cx="396.93" cy="134.32" r="1.55"/>
<circle cx="399.66" cy="137.4" r="1.55"/>
<circle cx="389.82" cy="138.44" r="1.55"/>
<circle cx="397.05" cy="139.61" r="1.55"/>
<circle cx="391.46" cy="142.32" r="1.55"/>
<circle cx="393.23" cy="144.27" r="1.55"/>
<circle cx="398.74" cy="146.55" r="1.55"/>
<circle cx="401.97" cy="147.24" r="1.55"/>
<circle cx="394.9" cy="148.71" r="1.55"/>
<circle cx="389.32" cy="151.11" r="1.55"/>
<circle cx="399.6" cy="152.36" r="1.55"/>
<circle cx="395.27" cy="154.09" r="1.55"/>
<circle cx="387.5" cy="157.41" r="1.55"/>
<circle cx="396.35" cy="43.2" r="1.55"/>
<circle cx="396.99" cy="52.3" r="1.55"/>
<circle cx="388.12" cy="60.82" r="1.55"/>
<circle cx="390.51" cy="64.3" r="1.55"/>
<circle cx="401.7" cy="68.98" r="1.55"/>
<circle cx="398.39" cy="78.44" r="1.55"/>
<circle cx="400.84" cy="80.05" r="1.55"/>
<circle cx="393.64" cy="88.37" r="1.55"/>
<circle cx="393.4" cy="92.88" r="1.55"/>
<circle cx="386.8" cy="95.16" r="1.55"/>
<circle cx="385.54" cy="99.17" r="1.55"/>
<circle cx="399.04" cy="103.11" r="1.55"/>
<circle cx="400.86" cy="107.33" r="1.55"/>
<circle cx="389.85" cy="110.14" r="1.55"/>
<circle cx="393.09" cy="112.23" r="1.55"/>
<circle cx="394.74" cy="114.74" r="1.55"/>
<circle cx="397" cy="115.67" r="1.55"/>
<circle cx="388.92" cy="117.92" r="1.55"/>
<circle cx="385.09" cy="118.78" r="1.55"/>
<circle cx="389.29" cy="119.08" r="1.55"/>
<circle cx="402.75" cy="119.59" r="1.55"/>
<circle cx="395.78" cy="41.5" r="1.55"/>
<circle cx="393.26" cy="289.9" r="1.55"/>
</g>
<g fill="#1E88E5" fill-opacity="0.24" stroke="#1E88E5" stroke-opacity="0.3" stroke-width="0.6">
<circle cx="426.54" cy="207.05" r="1.55"/>
<circle cx="437.54" cy="207.24" r="1.55"/>
<circle cx="433.46" cy="208.34" r="1.55"/>
<circle cx="438.9" cy="209.7" r="1.55"/>
<circle cx="436.25" cy="211.1" r="1.55"/>
<circle cx="436.59" cy="213.67" r="1.55"/>
<circle cx="434.07" cy="215.62" r="1.55"/>
<circle cx="426.15" cy="218.91" r="1.55"/>
<circle cx="432.13" cy="221.16" r="1.55"/>
<circle cx="437.61" cy="224.36" r="1.55"/>
<circle cx="420.81" cy="228.66" r="1.55"/>
<circle cx="437.95" cy="232.99" r="1.55"/>
<circle cx="422.99" cy="238.98" r="1.55"/>
<circle cx="421.09" cy="242.8" r="1.55"/>
<circle cx="432.34" cy="252.11" r="1.55"/>
<circle cx="434.3" cy="258.51" r="1.55"/>
<circle cx="431.52" cy="261.39" r="1.55"/>
<circle cx="435.83" cy="270.31" r="1.55"/>
<circle cx="437.23" cy="281.02" r="1.55"/>
<circle cx="436.79" cy="283.58" r="1.55"/>
<circle cx="438.24" cy="298.38" r="1.55"/>
<circle cx="424.21" cy="166.19" r="1.55"/>
<circle cx="420.95" cy="168.15" r="1.55"/>
<circle cx="435.73" cy="171.39" r="1.55"/>
<circle cx="435.98" cy="172.97" r="1.55"/>
<circle cx="425.76" cy="174.92" r="1.55"/>
<circle cx="422.16" cy="175.94" r="1.55"/>
<circle cx="424.19" cy="179.04" r="1.55"/>
<circle cx="428.35" cy="180.23" r="1.55"/>
<circle cx="425.18" cy="181.65" r="1.55"/>
<circle cx="433.9" cy="184.07" r="1.55"/>
<circle cx="426.4" cy="186.17" r="1.55"/>
<circle cx="429.87" cy="189.17" r="1.55"/>
<circle cx="432.05" cy="190.92" r="1.55"/>
<circle cx="428.15" cy="191.43" r="1.55"/>
<circle cx="434.99" cy="194.1" r="1.55"/>
<circle cx="433.69" cy="195.89" r="1.55"/>
<circle cx="424.41" cy="198.18" r="1.55"/>
<circle cx="422.03" cy="200.7" r="1.55"/>
<circle cx="423.54" cy="202.58" r="1.55"/>
<circle cx="424.14" cy="203.1" r="1.55"/>
<circle cx="438.88" cy="206.38" r="1.55"/>
<circle cx="429.63" cy="132.69" r="1.55"/>
<circle cx="435.44" cy="134.97" r="1.55"/>
<circle cx="429.7" cy="136.11" r="1.55"/>
<circle cx="436.1" cy="137.93" r="1.55"/>
<circle cx="438.23" cy="139.39" r="1.55"/>
<circle cx="424.38" cy="141.01" r="1.55"/>
<circle cx="429.77" cy="143.19" r="1.55"/>
<circle cx="432.39" cy="143.94" r="1.55"/>
<circle cx="435.27" cy="145.48" r="1.55"/>
<circle cx="435.25" cy="147.95" r="1.55"/>
<circle cx="427.06" cy="149.43" r="1.55"/>
<circle cx="427.8" cy="150.69" r="1.55"/>
<circle cx="421.94" cy="152.98" r="1.55"/>
<circle cx="420.78" cy="154.56" r="1.55"/>
<circle cx="425.3" cy="155.17" r="1.55"/>
<circle cx="429.82" cy="157.75" r="1.55"/>
<circle cx="437.1" cy="158.59" r="1.55"/>
<circle cx="429.06" cy="159.97" r="1.55"/>
<circle cx="434.64" cy="161.98" r="1.55"/>
<circle cx="432.58" cy="163.88" r="1.55"/>
<circle cx="426.51" cy="164.89" r="1.55"/>
<circle cx="436.32" cy="47.85" r="1.55"/>
<circle cx="434.4" cy="59.3" r="1.55"/>
<circle cx="428.64" cy="63.45" r="1.55"/>
<circle cx="431.3" cy="74.34" r="1.55"/>
<circle cx="429.08" cy="77.13" r="1.55"/>
<circle cx="424.82" cy="87.66" r="1.55"/>
<circle cx="426.03" cy="89.87" r="1.55"/>
<circle cx="436.33" cy="97.89" r="1.55"/>
<circle cx="423.26" cy="100.48" r="1.55"/>
<circle cx="426.5" cy="105.69" r="1.55"/>
<circle cx="423.36" cy="111.11" r="1.55"/>
<circle cx="423.9" cy="114.36" r="1.55"/>
<circle cx="434.15" cy="119.85" r="1.55"/>
<circle cx="438.59" cy="120.52" r="1.55"/>
<circle cx="427.6" cy="123.39" r="1.55"/>
<circle cx="435.4" cy="127.58" r="1.55"/>
<circle cx="428.56" cy="129" r="1.55"/>
<circle cx="432.42" cy="129.81" r="1.55"/>
<circle cx="424.22" cy="131.01" r="1.55"/>
<circle cx="420.94" cy="132.1" r="1.55"/>
<circle cx="435.33" cy="132.53" r="1.55"/>
<circle cx="430.96" cy="46.3" r="1.55"/>
<circle cx="429.8" cy="299.5" r="1.55"/>
</g>
<rect x="261.5" y="25.5" width="207" height="292.95" fill="none" stroke="#3d3d3d" stroke-width="1.25"/>
<rect x="477.3" y="0.5" width="206.9" height="25" fill="#D9D9D9" stroke="#3d3d3d" stroke-width="1.25"/>
<text transform="translate(580.75,18) scale(1,1.045)" font-size="12.95" fill="#1A1A1A" text-anchor="middle">Derealisation</text>
<line x1="477.3" x2="684.2" y1="278.75" y2="278.75" stroke="#F2F2F2" stroke-width="0.7"/>
<line x1="477.3" x2="684.2" y1="225.45" y2="225.45" stroke="#F2F2F2" stroke-width="0.7"/>
<line x1="477.3" x2="684.2" y1="172.15" y2="172.15" stroke="#F2F2F2" stroke-width="0.7"/>
<line x1="477.3" x2="684.2" y1="118.85" y2="118.85" stroke="#F2F2F2" stroke-width="0.7"/>
<line x1="477.3" x2="684.2" y1="65.55" y2="65.55" stroke="#F2F2F2" stroke-width="0.7"/>
<line x1="477.3" x2="684.2" y1="305.4" y2="305.4" stroke="#EBEBEB" stroke-width="1.3"/>
<line x1="477.3" x2="684.2" y1="252.1" y2="252.1" stroke="#EBEBEB" stroke-width="1.3"/>
<line x1="477.3" x2="684.2" y1="198.8" y2="198.8" stroke="#EBEBEB" stroke-width="1.3"/>
<line x1="477.3" x2="684.2" y1="145.5" y2="145.5" stroke="#EBEBEB" stroke-width="1.3"/>
<line x1="477.3" x2="684.2" y1="92.2" y2="92.2" stroke="#EBEBEB" stroke-width="1.3"/>
<line x1="477.3" x2="684.2" y1="38.9" y2="38.9" stroke="#EBEBEB" stroke-width="1.3"/>
<line x1="533.6" x2="533.6" y1="25.5" y2="318.45" stroke="#EBEBEB" stroke-width="1.3"/>
<line x1="627.85" x2="627.85" y1="25.5" y2="318.45" stroke="#EBEBEB" stroke-width="1.3"/>
<g stroke="#D81B60" fill="none" stroke-width="0.95">
<line x1="515.85" x2="515.85" y1="45.4" y2="173.4"/>
<line x1="515.85" x2="515.85" y1="267.3" y2="302.8"/>
<rect x="499.85" y="173.4" width="32" height="93.9" fill="#fff"/>
<line x1="499.85" x2="531.85" y1="240.1" y2="240.1" stroke-width="1.8"/>
</g>
<g stroke="#1E88E5" fill="none" stroke-width="0.95">
<line x1="551.35" x2="551.35" y1="53.2" y2="180.7"/>
<line x1="551.35" x2="551.35" y1="282.2" y2="302.5"/>
<rect x="535.35" y="180.7" width="32" height="101.5" fill="#fff"/>
<line x1="535.35" x2="567.35" y1="252.8" y2="252.8" stroke-width="1.8"/>
</g>
<g stroke="#D81B60" fill="none" stroke-width="0.95">
<line x1="610.1" x2="610.1" y1="47.6" y2="112.6"/>
<line x1="610.1" x2="610.1" y1="205.5" y2="290.2"/>
<rect x="594.1" y="112.6" width="32" height="92.9" fill="#fff"/>
<line x1="594.1" x2="626.1" y1="139.6" y2="139.6" stroke-width="1.8"/>
</g>
<g stroke="#1E88E5" fill="none" stroke-width="0.95">
<line x1="645.6" x2="645.6" y1="50.3" y2="112"/>
<line x1="645.6" x2="645.6" y1="218.2" y2="296.8"/>
<rect x="629.6" y="112" width="32" height="106.2" fill="#fff"/>
<line x1="629.6" x2="661.6" y1="156.7" y2="156.7" stroke-width="1.8"/>
</g>
<g fill="#D81B60" fill-opacity="0.24" stroke="#D81B60" stroke-opacity="0.3" stroke-width="0.6">
<circle cx="515.15" cy="267.33" r="1.55"/>
<circle cx="517.82" cy="267.41" r="1.55"/>
<circle cx="520.43" cy="267.77" r="1.55"/>
<circle cx="514.52" cy="268.5" r="1.55"/>
<circle cx="520.58" cy="268.98" r="1.55"/>
<circle cx="510.69" cy="269.67" r="1.55"/>
<circle cx="523.07" cy="270.91" r="1.55"/>
<circle cx="519.65" cy="272.13" r="1.55"/>
<circle cx="519.26" cy="273.56" r="1.55"/>
<circle cx="514.97" cy="274.76" r="1.55"/>
<circle cx="518.29" cy="275.89" r="1.55"/>
<circle cx="514.32" cy="277.29" r="1.55"/>
<circle cx="519.9" cy="280.39" r="1.55"/>
<circle cx="511.1" cy="282.23" r="1.55"/>
<circle cx="515" cy="284.06" r="1.55"/>
<circle cx="514.13" cy="286.91" r="1.55"/>
<circle cx="524.02" cy="289.64" r="1.55"/>
<circle cx="518.79" cy="291.16" r="1.55"/>
<circle cx="513.74" cy="295.6" r="1.55"/>
<circle cx="524.87" cy="297.88" r="1.55"/>
<circle cx="516.67" cy="299.77" r="1.55"/>
<circle cx="521.2" cy="240.35" r="1.55"/>
<circle cx="516.22" cy="242.56" r="1.55"/>
<circle cx="517.27" cy="242.87" r="1.55"/>
<circle cx="519.98" cy="244.68" r="1.55"/>
<circle cx="518.5" cy="245.94" r="1.55"/>
<circle cx="516.26" cy="247.61" r="1.55"/>
<circle cx="524.36" cy="248.41" r="1.55"/>
<circle cx="519.35" cy="249.48" r="1.55"/>
<circle cx="520.84" cy="250.98" r="1.55"/>
<circle cx="525.05" cy="251.96" r="1.55"/>
<circle cx="507.43" cy="253.53" r="1.55"/>
<circle cx="513.94" cy="254.73" r="1.55"/>
<circle cx="514.3" cy="255.72" r="1.55"/>
<circle cx="519.62" cy="257.49" r="1.55"/>
<circle cx="511.39" cy="258.71" r="1.55"/>
<circle cx="520.44" cy="259.85" r="1.55"/>
<circle cx="516.36" cy="261.98" r="1.55"/>
<circle cx="521.58" cy="262.44" r="1.55"/>
<circle cx="510.38" cy="263.94" r="1.55"/>
<circle cx="521.11" cy="264.93" r="1.55"/>
<circle cx="518.4" cy="267.01" r="1.55"/>
<circle cx="517.03" cy="174.9" r="1.55"/>
<circle cx="524.66" cy="177.38" r="1.55"/>
<circle cx="518.49" cy="180.92" r="1.55"/>
<circle cx="521.86" cy="185.43" r="1.55"/>
<circle cx="511.94" cy="187.6" r="1.55"/>
<circle cx="508.73" cy="191.01" r="1.55"/>
<circle cx="513.09" cy="195" r="1.55"/>
<circle cx="511.43" cy="198.22" r="1.55"/>
<circle cx="511.17" cy="200.04" r="1.55"/>
<circle cx="509.88" cy="203.36" r="1.55"/>
<circle cx="520.06" cy="205.33" r="1.55"/>
<circle cx="511" cy="209.3" r="1.55"/>
<circle cx="515.46" cy="212.54" r="1.55"/>
<circle cx="518.46" cy="216.07" r="1.55"/>
<circle cx="513.24" cy="219.91" r="1.55"/>
<circle cx="522.58" cy="223.86" r="1.55"/>
<circle cx="522.08" cy="224.54" r="1.55"/>
<circle cx="521.25" cy="230.14" r="1.55"/>
<circle cx="522.15" cy="231.13" r="1.55"/>
<circle cx="506.63" cy="235.72" r="1.55"/>
<circle cx="524.43" cy="237.12" r="1.55"/>
<circle cx="511.1" cy="53.09" r="1.55"/>
<circle cx="509.06" cy="58.94" r="1.55"/>
<circle cx="521.1" cy="71.47" r="1.55"/>
<circle cx="509.25" cy="83.1" r="1.55"/>
<circle cx="521.39" cy="97.82" r="1.55"/>
<circle cx="523.28" cy="100.95" r="1.55"/>
<circle cx="521.19" cy="113.19" r="1.55"/>
<circle cx="523.33" cy="121.68" r="1.55"/>
<circle cx="522.29" cy="129.91" r="1.55"/>
<circle cx="519.51" cy="133.17" r="1.55"/>
<circle cx="520.45" cy="141.57" r="1.55"/>
<circle cx="523.12" cy="146.9" r="1.55"/>
<circle cx="511.38" cy="152.67" r="1.55"/>
<circle cx="509" cy="156.02" r="1.55"/>
<circle cx="507.46" cy="161.11" r="1.55"/>
<circle cx="509.09" cy="164.53" r="1.55"/>
<circle cx="515.82" cy="167.5" r="1.55"/>
<circle cx="522.74" cy="169.92" r="1.55"/>
<circle cx="522.32" cy="170.88" r="1.55"/>
<circle cx="517.04" cy="172.72" r="1.55"/>
<circle cx="522.32" cy="173.36" r="1.55"/>
<circle cx="515.1" cy="45.4" r="1.55"/>
<circle cx="515.36" cy="302.8" r="1.55"/>
</g>
<g fill="#1E88E5" fill-opacity="0.24" stroke="#1E88E5" stroke-opacity="0.3" stroke-width="0.6">
<circle cx="543.28" cy="282.24" r="1.55"/>
<circle cx="553.94" cy="282.32" r="1.55"/>
<circle cx="553.43" cy="282.4" r="1.55"/>
<circle cx="559.55" cy="282.82" r="1.55"/>
<circle cx="560.5" cy="283.07" r="1.55"/>
<circle cx="551.06" cy="283.6" r="1.55"/>
<circle cx="542.49" cy="284.36" r="1.55"/>
<circle cx="553.73" cy="284.93" r="1.55"/>
<circle cx="558.22" cy="285.41" r="1.55"/>
<circle cx="550.87" cy="286.25" r="1.55"/>
<circle cx="556.49" cy="287.3" r="1.55"/>
<circle cx="550.12" cy="288.02" r="1.55"/>
<circle cx="552.38" cy="289.31" r="1.55"/>
<circle cx="547.41" cy="290.96" r="1.55"/>
<circle cx="549.52" cy="292.28" r="1.55"/>
<circle cx="547.01" cy="293.26" r="1.55"/>
<circle cx="560.37" cy="294.74" r="1.55"/>
<circle cx="556.9" cy="296.52" r="1.55"/>
<circle cx="547.87" cy="297.7" r="1.55"/>
<circle cx="552.99" cy="299.38" r="1.55"/>
<circle cx="556.75" cy="301.77" r="1.55"/>
<circle cx="555.58" cy="252.92" r="1.55"/>
<circle cx="552.21" cy="255.39" r="1.55"/>
<circle cx="547.56" cy="255.73" r="1.55"/>
<circle cx="545.46" cy="257.08" r="1.55"/>
<circle cx="553.42" cy="259.63" r="1.55"/>
<circle cx="556.84" cy="260.7" r="1.55"/>
<circle cx="553.47" cy="262.42" r="1.55"/>
<circle cx="553.76" cy="263.45" r="1.55"/>
<circle cx="553.18" cy="264.95" r="1.55"/>
<circle cx="545.89" cy="266.33" r="1.55"/>
<circle cx="550.55" cy="267.71" r="1.55"/>
<circle cx="543.78" cy="269.23" r="1.55"/>
<circle cx="542.55" cy="269.9" r="1.55"/>
<circle cx="559.22" cy="272.05" r="1.55"/>
<circle cx="548.86" cy="273.3" r="1.55"/>
<circle cx="556.79" cy="274.91" r="1.55"/>
<circle cx="546.75" cy="275.98" r="1.55"/>
<circle cx="549.86" cy="277.05" r="1.55"/>
<circle cx="550.03" cy="278.47" r="1.55"/>
<circle cx="559.59" cy="280.28" r="1.55"/>
<circle cx="552.63" cy="280.94" r="1.55"/>
<circle cx="544.11" cy="180.99" r="1.55"/>
<circle cx="552.78" cy="186.81" r="1.55"/>
<circle cx="550.33" cy="190.58" r="1.55"/>
<circle cx="549.21" cy="191.22" r="1.55"/>
<circle cx="559.67" cy="196.43" r="1.55"/>
<circle cx="550.88" cy="201.07" r="1.55"/>
<circle cx="543.79" cy="202.75" r="1.55"/>
<circle cx="545.88" cy="206.9" r="1.55"/>
<circle cx="542.15" cy="208.81" r="1.55"/>
<circle cx="554.84" cy="211.79" r="1.55"/>
<circle cx="560.21" cy="215.58" r="1.55"/>
<circle cx="558.37" cy="218.91" r="1.55"/>
<circle cx="542.19" cy="222.47" r="1.55"/>
<circle cx="546.45" cy="227.73" r="1.55"/>
<circle cx="545.41" cy="231.21" r="1.55"/>
<circle cx="556.56" cy="232.53" r="1.55"/>
<circle cx="558.1" cy="238.01" r="1.55"/>
<circle cx="543.45" cy="241.49" r="1.55"/>
<circle cx="555.33" cy="244.61" r="1.55"/>
<circle cx="559.56" cy="247.53" r="1.55"/>
<circle cx="560.17" cy="250.32" r="1.55"/>
<circle cx="542.07" cy="61.51" r="1.55"/>
<circle cx="554.21" cy="65.78" r="1.55"/>
<circle cx="543.36" cy="84.78" r="1.55"/>
<circle cx="555.71" cy="90.43" r="1.55"/>
<circle cx="558.21" cy="99.09" r="1.55"/>
<circle cx="542.99" cy="111.13" r="1.55"/>
<circle cx="552.77" cy="118.91" r="1.55"/>
<circle cx="554.71" cy="127.58" r="1.55"/>
<circle cx="557" cy="133.19" r="1.55"/>
<circle cx="554.1" cy="141.64" r="1.55"/>
<circle cx="549.79" cy="149.53" r="1.55"/>
<circle cx="556.79" cy="154.04" r="1.55"/>
<circle cx="556.76" cy="161.73" r="1.55"/>
<circle cx="547.41" cy="164.7" r="1.55"/>
<circle cx="560.36" cy="166.95" r="1.55"/>
<circle cx="557.57" cy="172.53" r="1.55"/>
<circle cx="553.36" cy="174.45" r="1.55"/>
<circle cx="557.64" cy="177.97" r="1.55"/>
<circle cx="547.71" cy="179.02" r="1.55"/>
<circle cx="558.72" cy="179.99" r="1.55"/>
<circle cx="554.86" cy="180.59" r="1.55"/>
<circle cx="551.96" cy="53.2" r="1.55"/>
<circle cx="553.73" cy="302.5" r="1.55"/>
</g>
<g fill="#D81B60" fill-opacity="0.24" stroke="#D81B60" stroke-opacity="0.3" stroke-width="0.6">
<circle cx="605.98" cy="205.62" r="1.55"/>
<circle cx="605.6" cy="205.71" r="1.55"/>
<circle cx="611.75" cy="206.63" r="1.55"/>
<circle cx="617.46" cy="208.25" r="1.55"/>
<circle cx="616.43" cy="208.71" r="1.55"/>
<circle cx="617.08" cy="211.92" r="1.55"/>
<circle cx="605.8" cy="213.78" r="1.55"/>
<circle cx="615.93" cy="217.23" r="1.55"/>
<circle cx="617.96" cy="219.92" r="1.55"/>
<circle cx="602.22" cy="222.33" r="1.55"/>
<circle cx="615.75" cy="226.87" r="1.55"/>
<circle cx="614.85" cy="229.72" r="1.55"/>
<circle cx="605.05" cy="237.4" r="1.55"/>
<circle cx="613.48" cy="241" r="1.55"/>
<circle cx="604.53" cy="245.71" r="1.55"/>
<circle cx="614.87" cy="250.34" r="1.55"/>
<circle cx="609.33" cy="259.47" r="1.55"/>
<circle cx="615.92" cy="261.85" r="1.55"/>
<circle cx="605.02" cy="272.99" r="1.55"/>
<circle cx="617.64" cy="279.07" r="1.55"/>
<circle cx="610.52" cy="288.97" r="1.55"/>
<circle cx="611.8" cy="141.1" r="1.55"/>
<circle cx="604.25" cy="143.43" r="1.55"/>
<circle cx="613.92" cy="146.54" r="1.55"/>
<circle cx="611.32" cy="150.2" r="1.55"/>
<circle cx="610.43" cy="153.45" r="1.55"/>
<circle cx="601.45" cy="155.87" r="1.55"/>
<circle cx="607.71" cy="161.4" r="1.55"/>
<circle cx="612.62" cy="162.02" r="1.55"/>
<circle cx="603.57" cy="167.09" r="1.55"/>
<circle cx="607.15" cy="169.69" r="1.55"/>
<circle cx="600.99" cy="172.6" r="1.55"/>
<circle cx="619.42" cy="174.37" r="1.55"/>
<circle cx="609.84" cy="179.86" r="1.55"/>
<circle cx="605.57" cy="182.15" r="1.55"/>
<circle cx="608.69" cy="185.89" r="1.55"/>
<circle cx="615.18" cy="189.5" r="1.55"/>
<circle cx="618.91" cy="192.28" r="1.55"/>
<circle cx="601.32" cy="193.82" r="1.55"/>
<circle cx="604.03" cy="196.81" r="1.55"/>
<circle cx="601.57" cy="199.62" r="1.55"/>
<circle cx="617.14" cy="204.09" r="1.55"/>
<circle cx="618.6" cy="113.19" r="1.55"/>
<circle cx="601.82" cy="115" r="1.55"/>
<circle cx="608.15" cy="115.93" r="1.55"/>
<circle cx="618.83" cy="116.66" r="1.55"/>
<circle cx="611.33" cy="118.1" r="1.55"/>
<circle cx="618.77" cy="119.83" r="1.55"/>
<circle cx="608.07" cy="121.15" r="1.55"/>
<circle cx="603.63" cy="122.18" r="1.55"/>
<circle cx="619.44" cy="124.07" r="1.55"/>
<circle cx="601.33" cy="124.49" r="1.55"/>
<circle cx="607.29" cy="125.82" r="1.55"/>
<circle cx="617.79" cy="127.85" r="1.55"/>
<circle cx="601.49" cy="129.06" r="1.55"/>
<circle cx="614.08" cy="130.29" r="1.55"/>
<circle cx="619.32" cy="131.41" r="1.55"/>
<circle cx="603.35" cy="132.01" r="1.55"/>
<circle cx="618.45" cy="134.11" r="1.55"/>
<circle cx="606.28" cy="135.3" r="1.55"/>
<circle cx="615" cy="136.49" r="1.55"/>
<circle cx="606.75" cy="137.21" r="1.55"/>
<circle cx="602.96" cy="138.68" r="1.55"/>
<circle cx="603.8" cy="50.56" r="1.55"/>
<circle cx="603.32" cy="55.19" r="1.55"/>
<circle cx="600.84" cy="63.02" r="1.55"/>
<circle cx="604.31" cy="68.46" r="1.55"/>
<circle cx="618.23" cy="70.42" r="1.55"/>
<circle cx="618.35" cy="76.03" r="1.55"/>
<circle cx="617.49" cy="83.01" r="1.55"/>
<circle cx="609.1" cy="84.43" r="1.55"/>
<circle cx="618.25" cy="88.21" r="1.55"/>
<circle cx="612.54" cy="94.14" r="1.55"/>
<circle cx="607.06" cy="96.22" r="1.55"/>
<circle cx="609.67" cy="100.1" r="1.55"/>
<circle cx="603.31" cy="102.24" r="1.55"/>
<circle cx="601.68" cy="103.75" r="1.55"/>
<circle cx="611.11" cy="106.74" r="1.55"/>
<circle cx="617.14" cy="107.61" r="1.55"/>
<circle cx="608.42" cy="109.33" r="1.55"/>
<circle cx="605.75" cy="110.46" r="1.55"/>
<circle cx="606.96" cy="111.89" r="1.55"/>
<circle cx="609.93" cy="112.12" r="1.55"/>
<circle cx="617.76" cy="112.54" r="1.55"/>
<circle cx="607.79" cy="47.6" r="1.55"/>
<circle cx="612.97" cy="290.2" r="1.55"/>
</g>
<g fill="#1E88E5" fill-opacity="0.24" stroke="#1E88E5" stroke-opacity="0.3" stroke-width="0.6">
<circle cx="653.11" cy="218.2" r="1.55"/>
<circle cx="640.11" cy="218.69" r="1.55"/>
<circle cx="641.54" cy="219.3" r="1.55"/>
<circle cx="639.93" cy="220.12" r="1.55"/>
<circle cx="654.93" cy="221.62" r="1.55"/>
<circle cx="653.68" cy="224.51" r="1.55"/>
<circle cx="641.6" cy="224.91" r="1.55"/>
<circle cx="637.19" cy="229.2" r="1.55"/>
<circle cx="641.68" cy="231.7" r="1.55"/>
<circle cx="636.4" cy="235.78" r="1.55"/>
<circle cx="642.58" cy="238.9" r="1.55"/>
<circle cx="636.14" cy="240.46" r="1.55"/>
<circle cx="646.11" cy="247.4" r="1.55"/>
<circle cx="644.37" cy="249.34" r="1.55"/>
<circle cx="640.25" cy="257.61" r="1.55"/>
<circle cx="638.72" cy="261.38" r="1.55"/>
<circle cx="650.74" cy="265.05" r="1.55"/>
<circle cx="639.84" cy="273.98" r="1.55"/>
<circle cx="637.76" cy="276.73" r="1.55"/>
<circle cx="645.51" cy="286.65" r="1.55"/>
<circle cx="640.01" cy="291.62" r="1.55"/>
<circle cx="649.55" cy="158.46" r="1.55"/>
<circle cx="647.18" cy="161.91" r="1.55"/>
<circle cx="637.35" cy="163.24" r="1.55"/>
<circle cx="643.85" cy="167.56" r="1.55"/>
<circle cx="637.15" cy="170.46" r="1.55"/>
<circle cx="642.47" cy="173.63" r="1.55"/>
<circle cx="652.53" cy="176.64" r="1.55"/>
<circle cx="636.39" cy="178.65" r="1.55"/>
<circle cx="645.16" cy="182.67" r="1.55"/>
<circle cx="641.16" cy="185.5" r="1.55"/>
<circle cx="651.9" cy="186.62" r="1.55"/>
<circle cx="639.21" cy="190.03" r="1.55"/>
<circle cx="647.4" cy="192.97" r="1.55"/>
<circle cx="645.98" cy="194.93" r="1.55"/>
<circle cx="645.9" cy="199.02" r="1.55"/>
<circle cx="649.68" cy="201.09" r="1.55"/>
<circle cx="652.54" cy="205.86" r="1.55"/>
<circle cx="649.61" cy="207.48" r="1.55"/>
<circle cx="650.38" cy="210.57" r="1.55"/>
<circle cx="652.68" cy="212.65" r="1.55"/>
<circle cx="645.5" cy="217.93" r="1.55"/>
<circle cx="646.18" cy="113.09" r="1.55"/>
<circle cx="636.49" cy="115.26" r="1.55"/>
<circle cx="640.35" cy="118.22" r="1.55"/>
<circle cx="638.05" cy="118.84" r="1.55"/>
<circle cx="651.63" cy="121.1" r="1.55"/>
<circle cx="637.93" cy="122.81" r="1.55"/>
<circle cx="639.81" cy="126.22" r="1.55"/>
<circle cx="647.49" cy="127.04" r="1.55"/>
<circle cx="646.04" cy="130.24" r="1.55"/>
<circle cx="638.05" cy="132.61" r="1.55"/>
<circle cx="649.72" cy="135.06" r="1.55"/>
<circle cx="638.44" cy="135.61" r="1.55"/>
<circle cx="645.61" cy="138.59" r="1.55"/>
<circle cx="638.42" cy="140.31" r="1.55"/>
<circle cx="638.7" cy="142.68" r="1.55"/>
<circle cx="652.46" cy="145.17" r="1.55"/>
<circle cx="646.98" cy="146.45" r="1.55"/>
<circle cx="639.22" cy="149.72" r="1.55"/>
<circle cx="653.91" cy="152" r="1.55"/>
<circle cx="644.09" cy="153.29" r="1.55"/>
<circle cx="646.09" cy="156.29" r="1.55"/>
<circle cx="653.98" cy="52.66" r="1.55"/>
<circle cx="642.53" cy="60.15" r="1.55"/>
<circle cx="642.47" cy="62.9" r="1.55"/>
<circle cx="654.74" cy="68.87" r="1.55"/>
<circle cx="653.44" cy="75.16" r="1.55"/>
<circle cx="652.2" cy="79.61" r="1.55"/>
<circle cx="645.93" cy="80.93" r="1.55"/>
<circle cx="653.85" cy="88.03" r="1.55"/>
<circle cx="644.12" cy="89.34" r="1.55"/>
<circle cx="643.02" cy="93.88" r="1.55"/>
<circle cx="637.42" cy="96.66" r="1.55"/>
<circle cx="645.69" cy="99.21" r="1.55"/>
<circle cx="638.75" cy="100.84" r="1.55"/>
<circle cx="650.86" cy="104.99" r="1.55"/>
<circle cx="648.13" cy="106.78" r="1.55"/>
<circle cx="652.9" cy="108.19" r="1.55"/>
<circle cx="636.75" cy="109.59" r="1.55"/>
<circle cx="641.15" cy="110.41" r="1.55"/>
<circle cx="641.3" cy="111.23" r="1.55"/>
<circle cx="653.66" cy="111.7" r="1.55"/>
<circle cx="640.86" cy="111.98" r="1.55"/>
<circle cx="645.72" cy="50.3" r="1.55"/>
<circle cx="645.2" cy="296.8" r="1.55"/>
</g>
<rect x="477.3" y="25.5" width="206.9" height="292.95" fill="none" stroke="#3d3d3d" stroke-width="1.25"/>
<line x1="533.6" x2="533.6" y1="318.45" y2="322.65" stroke="#3d3d3d" stroke-width="1.4"/>
<text transform="translate(533.6,335.35) scale(1,1.045)" font-size="12.95" fill="#4D4D4D" text-anchor="middle">No Delay</text>
<line x1="627.85" x2="627.85" y1="318.45" y2="322.65" stroke="#3d3d3d" stroke-width="1.4"/>
<text transform="translate(627.85,335.35) scale(1,1.045)" font-size="12.95" fill="#4D4D4D" text-anchor="middle">Delay</text>
<rect x="45.5" y="327.55" width="207" height="24.45" fill="#D9D9D9" stroke="#3d3d3d" stroke-width="1.25"/>
<text transform="translate(149,345.05) scale(1,1.045)" font-size="12.95" fill="#1A1A1A" text-anchor="middle">Embodiment</text>
<line x1="45.5" x2="252.5" y1="605.34" y2="605.34" stroke="#F2F2F2" stroke-width="0.7"/>
<line x1="45.5" x2="252.5" y1="552.02" y2="552.02" stroke="#F2F2F2" stroke-width="0.7"/>
<line x1="45.5" x2="252.5" y1="498.7" y2="498.7" stroke="#F2F2F2" stroke-width="0.7"/>
<line x1="45.5" x2="252.5" y1="445.38" y2="445.38" stroke="#F2F2F2" stroke-width="0.7"/>
<line x1="45.5" x2="252.5" y1="392.06" y2="392.06" stroke="#F2F2F2" stroke-width="0.7"/>
<line x1="45.5" x2="252.5" y1="632" y2="632" stroke="#EBEBEB" stroke-width="1.3"/>
<line x1="45.5" x2="252.5" y1="578.68" y2="578.68" stroke="#EBEBEB" stroke-width="1.3"/>
<line x1="45.5" x2="252.5" y1="525.36" y2="525.36" stroke="#EBEBEB" stroke-width="1.3"/>
<line x1="45.5" x2="252.5" y1="472.04" y2="472.04" stroke="#EBEBEB" stroke-width="1.3"/>
<line x1="45.5" x2="252.5" y1="418.72" y2="418.72" stroke="#EBEBEB" stroke-width="1.3"/>
<line x1="45.5" x2="252.5" y1="365.4" y2="365.4" stroke="#EBEBEB" stroke-width="1.3"/>
<line x1="101.8" x2="101.8" y1="352" y2="645" stroke="#EBEBEB" stroke-width="1.3"/>
<line x1="196.05" x2="196.05" y1="352" y2="645" stroke="#EBEBEB" stroke-width="1.3"/>
<g stroke="#D81B60" fill="none" stroke-width="0.95">
<line x1="84.05" x2="84.05" y1="368.2" y2="393.1"/>
<line x1="84.05" x2="84.05" y1="483.2" y2="610.8"/>
<rect x="68.05" y="393.1" width="32" height="90.1" fill="#fff"/>
<line x1="68.05" x2="100.05" y1="436.4" y2="436.4" stroke-width="1.8"/>
</g>
<g stroke="#1E88E5" fill="none" stroke-width="0.95">
<line x1="119.55" x2="119.55" y1="367.2" y2="389.4"/>
<line x1="119.55" x2="119.55" y1="457.2" y2="553.9"/>
<rect x="103.55" y="389.4" width="32" height="67.8" fill="#fff"/>
<line x1="103.55" x2="135.55" y1="412.9" y2="412.9" stroke-width="1.8"/>
</g>
<g stroke="#D81B60" fill="none" stroke-width="0.95">
<line x1="178.3" x2="178.3" y1="372.2" y2="447.3"/>
<line x1="178.3" x2="178.3" y1="527" y2="622.9"/>
<rect x="162.3" y="447.3" width="32" height="79.7" fill="#fff"/>
<line x1="162.3" x2="194.3" y1="490.1" y2="490.1" stroke-width="1.8"/>
</g>
<g stroke="#1E88E5" fill="none" stroke-width="0.95">
<line x1="213.8" x2="213.8" y1="373.4" y2="442.5"/>
<line x1="213.8" x2="213.8" y1="533.7" y2="619.9"/>
<rect x="197.8" y="442.5" width="32" height="91.2" fill="#fff"/>
<line x1="197.8" x2="229.8" y1="493.6" y2="493.6" stroke-width="1.8"/>
</g>
<g fill="#D81B60" fill-opacity="0.24" stroke="#D81B60" stroke-opacity="0.3" stroke-width="0.6">
<circle cx="80.01" cy="483.44" r="1.55"/>
<circle cx="86.85" cy="483.71" r="1.55"/>
<circle cx="85.84" cy="484.55" r="1.55"/>
<circle cx="84.31" cy="487.62" r="1.55"/>
<circle cx="83.41" cy="488.53" r="1.55"/>
<circle cx="77.37" cy="492.05" r="1.55"/>
<circle cx="77.05" cy="494.18" r="1.55"/>
<circle cx="82.27" cy="498.68" r="1.55"/>
<circle cx="79.17" cy="503.18" r="1.55"/>
<circle cx="84.93" cy="507.31" r="1.55"/>
<circle cx="86.14" cy="516.98" r="1.55"/>
<circle cx="86.91" cy="521.89" r="1.55"/>
<circle cx="88.05" cy="526.49" r="1.55"/>
<circle cx="84.96" cy="535.66" r="1.55"/>
<circle cx="83.46" cy="544.89" r="1.55"/>
<circle cx="79.15" cy="551.19" r="1.55"/>
<circle cx="84.29" cy="559.6" r="1.55"/>
<circle cx="85.68" cy="570.75" r="1.55"/>
<circle cx="81.25" cy="577.58" r="1.55"/>
<circle cx="79.08" cy="596.93" r="1.55"/>
<circle cx="83.89" cy="605.4" r="1.55"/>
<circle cx="93.31" cy="437.08" r="1.55"/>
<circle cx="89.22" cy="439.33" r="1.55"/>
<circle cx="75.82" cy="441.29" r="1.55"/>
<circle cx="82.91" cy="444.94" r="1.55"/>
<circle cx="81.92" cy="445.55" r="1.55"/>
<circle cx="88.52" cy="448.54" r="1.55"/>
<circle cx="78.83" cy="450.1" r="1.55"/>
<circle cx="88.58" cy="454.04" r="1.55"/>
<circle cx="80.95" cy="454.65" r="1.55"/>
<circle cx="87.38" cy="457.28" r="1.55"/>
<circle cx="90.7" cy="460.03" r="1.55"/>
<circle cx="84.39" cy="462.67" r="1.55"/>
<circle cx="88.67" cy="464.74" r="1.55"/>
<circle cx="83.58" cy="467.01" r="1.55"/>
<circle cx="88.01" cy="469.29" r="1.55"/>
<circle cx="76.97" cy="471.77" r="1.55"/>
<circle cx="74.63" cy="473.92" r="1.55"/>
<circle cx="85.68" cy="475.93" r="1.55"/>
<circle cx="92.84" cy="477.62" r="1.55"/>
<circle cx="82.49" cy="480" r="1.55"/>
<circle cx="91.13" cy="482.65" r="1.55"/>
<circle cx="81.76" cy="394.33" r="1.55"/>
<circle cx="83.25" cy="396.1" r="1.55"/>
<circle cx="80.12" cy="398.67" r="1.55"/>
<circle cx="85.1" cy="400.11" r="1.55"/>
<circle cx="80.67" cy="402.16" r="1.55"/>
<circle cx="90.69" cy="404.97" r="1.55"/>
<circle cx="82.99" cy="406.5" r="1.55"/>
<circle cx="80.33" cy="407.98" r="1.55"/>
<circle cx="85.48" cy="409.97" r="1.55"/>
<circle cx="76.22" cy="412.84" r="1.55"/>
<circle cx="80.7" cy="415.53" r="1.55"/>
<circle cx="90.47" cy="417.45" r="1.55"/>
<circle cx="78.43" cy="419.73" r="1.55"/>
<circle cx="91.85" cy="420.8" r="1.55"/>
<circle cx="75.45" cy="422.09" r="1.55"/>
<circle cx="84" cy="425.18" r="1.55"/>
<circle cx="89.25" cy="427.9" r="1.55"/>
<circle cx="93.52" cy="429.25" r="1.55"/>
<circle cx="84.38" cy="431.28" r="1.55"/>
<circle cx="81.95" cy="433.65" r="1.55"/>
<circle cx="85.85" cy="435.11" r="1.55"/>
<circle cx="92.56" cy="369.06" r="1.55"/>
<circle cx="84.53" cy="371.98" r="1.55"/>
<circle cx="81.66" cy="373.01" r="1.55"/>
<circle cx="85.22" cy="375.63" r="1.55"/>
<circle cx="91.27" cy="377.85" r="1.55"/>
<circle cx="83.8" cy="380.26" r="1.55"/>
<circle cx="86.42" cy="381.14" r="1.55"/>
<circle cx="81.07" cy="383.48" r="1.55"/>
<circle cx="90.05" cy="384.32" r="1.55"/>
<circle cx="80.59" cy="385.24" r="1.55"/>
<circle cx="90.24" cy="387.38" r="1.55"/>
<circle cx="76.65" cy="388.02" r="1.55"/>
<circle cx="87.66" cy="389.35" r="1.55"/>
<circle cx="93.36" cy="390.16" r="1.55"/>
<circle cx="82.55" cy="390.96" r="1.55"/>
<circle cx="80.06" cy="391.19" r="1.55"/>
<circle cx="84.14" cy="391.96" r="1.55"/>
<circle cx="78.02" cy="392.29" r="1.55"/>
<circle cx="86.01" cy="392.78" r="1.55"/>
<circle cx="93.43" cy="392.95" r="1.55"/>
<circle cx="75.35" cy="393.09" r="1.55"/>
<circle cx="83.52" cy="368.2" r="1.55"/>
<circle cx="85.78" cy="610.8" r="1.55"/>
</g>
<g fill="#1E88E5" fill-opacity="0.24" stroke="#1E88E5" stroke-opacity="0.3" stroke-width="0.6">
<circle cx="123.17" cy="457.23" r="1.55"/>
<circle cx="115.83" cy="457.53" r="1.55"/>
<circle cx="121.19" cy="459.55" r="1.55"/>
<circle cx="113.79" cy="461.18" r="1.55"/>
<circle cx="120.56" cy="463.24" r="1.55"/>
<circle cx="122.34" cy="465.55" r="1.55"/>
<circle cx="129" cy="469.92" r="1.55"/>
<circle cx="117.86" cy="474.29" r="1.55"/>
<circle cx="113.03" cy="477.07" r="1.55"/>
<circle cx="112.08" cy="485.48" r="1.55"/>
<circle cx="113.29" cy="487.89" r="1.55"/>
<circle cx="125.69" cy="496.81" r="1.55"/>
<circle cx="125.38" cy="504.6" r="1.55"/>
<circle cx="110.29" cy="508.46" r="1.55"/>
<circle cx="116.18" cy="522.08" r="1.55"/>
<circle cx="116.77" cy="530.71" r="1.55"/>
<circle cx="115.12" cy="535.55" r="1.55"/>
<circle cx="127.22" cy="544.88" r="1.55"/>
<circle cx="116.68" cy="414.11" r="1.55"/>
<circle cx="117.38" cy="415.97" r="1.55"/>
<circle cx="126.97" cy="417.33" r="1.55"/>
<circle cx="128.28" cy="420.44" r="1.55"/>
<circle cx="121.83" cy="422.28" r="1.55"/>
<circle cx="110.89" cy="424.03" r="1.55"/>
<circle cx="126.29" cy="427.43" r="1.55"/>
<circle cx="127.13" cy="428.37" r="1.55"/>
<circle cx="115.82" cy="431.43" r="1.55"/>
<circle cx="128.29" cy="433.14" r="1.55"/>
<circle cx="128.09" cy="435.04" r="1.55"/>
<circle cx="117.46" cy="436.67" r="1.55"/>
<circle cx="114.26" cy="439.68" r="1.55"/>
<circle cx="126.68" cy="441.02" r="1.55"/>
<circle cx="125.11" cy="443.46" r="1.55"/>
<circle cx="113.35" cy="445.11" r="1.55"/>
<circle cx="113.59" cy="447.44" r="1.55"/>
<circle cx="115.57" cy="450.71" r="1.55"/>
<circle cx="112.23" cy="452.04" r="1.55"/>
<circle cx="117.38" cy="454.1" r="1.55"/>
<circle cx="111.29" cy="455.96" r="1.55"/>
<circle cx="125.74" cy="389.58" r="1.55"/>
<circle cx="114.7" cy="390.93" r="1.55"/>
<circle cx="115.44" cy="391.89" r="1.55"/>
<circle cx="110.71" cy="393.05" r="1.55"/>
<circle cx="116.54" cy="394.6" r="1.55"/>
<circle cx="123.46" cy="395.21" r="1.55"/>
<circle cx="115.17" cy="396.26" r="1.55"/>
<circle cx="112.48" cy="398.13" r="1.55"/>
<circle cx="125.94" cy="398.85" r="1.55"/>
<circle cx="113.08" cy="400.34" r="1.55"/>
<circle cx="123.78" cy="401" r="1.55"/>
<circle cx="128.26" cy="402.15" r="1.55"/>
<circle cx="128.12" cy="403.09" r="1.55"/>
<circle cx="114.37" cy="404.51" r="1.55"/>
<circle cx="112.54" cy="405.58" r="1.55"/>
<circle cx="115" cy="406.95" r="1.55"/>
<circle cx="121.21" cy="408.27" r="1.55"/>
<circle cx="114.73" cy="408.85" r="1.55"/>
<circle cx="114.09" cy="410.21" r="1.55"/>
<circle cx="112.38" cy="411.6" r="1.55"/>
<circle cx="120.36" cy="412.35" r="1.55"/>
<circle cx="124.71" cy="367.82" r="1.55"/>
<circle cx="122.54" cy="370.05" r="1.55"/>
<circle cx="115.95" cy="372.28" r="1.55"/>
<circle cx="111.68" cy="373.81" r="1.55"/>
<circle cx="126.22" cy="375.21" r="1.55"/>
<circle cx="122.64" cy="377.05" r="1.55"/>
<circle cx="120.73" cy="378.3" r="1.55"/>
<circle cx="119.56" cy="380.06" r="1.55"/>
<circle cx="111.3" cy="381.3" r="1.55"/>
<circle cx="114.35" cy="382.54" r="1.55"/>
<circle cx="123.67" cy="383.49" r="1.55"/>
<circle cx="117.71" cy="384.67" r="1.55"/>
<circle cx="124.77" cy="386.07" r="1.55"/>
<circle cx="126.41" cy="386.82" r="1.55"/>
<circle cx="115.3" cy="387.05" r="1.55"/>
<circle cx="122.96" cy="387.63" r="1.55"/>
<circle cx="116.73" cy="388.45" r="1.55"/>
<circle cx="122.57" cy="388.76" r="1.55"/>
<circle cx="114.77" cy="389.13" r="1.55"/>
<circle cx="116.74" cy="389.33" r="1.55"/>
<circle cx="113.5" cy="389.39" r="1.55"/>
<circle cx="117.24" cy="367.2" r="1.55"/>
<circle cx="122.03" cy="553.9" r="1.55"/>
<circle cx="112.7" cy="573.3" r="1.55"/>
<circle cx="122.6" cy="573.6" r="1.55"/>
<circle cx="120" cy="589.3" r="1.55"/>
</g>
<g fill="#D81B60" fill-opacity="0.24" stroke="#D81B60" stroke-opacity="0.3" stroke-width="0.6">
<circle cx="182.34" cy="527.11" r="1.55"/>
<circle cx="169.56" cy="527.26" r="1.55"/>
<circle cx="172.56" cy="528.05" r="1.55"/>
<circle cx="176.03" cy="529.4" r="1.55"/>
<circle cx="174.71" cy="530.63" r="1.55"/>
<circle cx="172.21" cy="533.88" r="1.55"/>
<circle cx="179.63" cy="537.07" r="1.55"/>
<circle cx="173.64" cy="539.88" r="1.55"/>
<circle cx="181.8" cy="542.5" r="1.55"/>
<circle cx="168.82" cy="546.07" r="1.55"/>
<circle cx="183.55" cy="552.37" r="1.55"/>
<circle cx="169.62" cy="554.81" r="1.55"/>
<circle cx="180.34" cy="562.73" r="1.55"/>
<circle cx="173.44" cy="564.28" r="1.55"/>
<circle cx="183.84" cy="570.54" r="1.55"/>
<circle cx="186.18" cy="577.5" r="1.55"/>
<circle cx="170.44" cy="587.83" r="1.55"/>
<circle cx="176.28" cy="594.94" r="1.55"/>
<circle cx="184.55" cy="603.23" r="1.55"/>
<circle cx="170.51" cy="608.03" r="1.55"/>
<circle cx="176.86" cy="622" r="1.55"/>
<circle cx="181.94" cy="491.66" r="1.55"/>
<circle cx="184.57" cy="493.11" r="1.55"/>
<circle cx="177.4" cy="494.7" r="1.55"/>
<circle cx="182.07" cy="495.55" r="1.55"/>
<circle cx="178.53" cy="497.89" r="1.55"/>
<circle cx="171.23" cy="500.44" r="1.55"/>
<circle cx="169.63" cy="501.94" r="1.55"/>
<circle cx="184.11" cy="503.6" r="1.55"/>
<circle cx="179.18" cy="504.66" r="1.55"/>
<circle cx="180.91" cy="507.54" r="1.55"/>
<circle cx="173.54" cy="508.62" r="1.55"/>
<circle cx="175.6" cy="509.61" r="1.55"/>
<circle cx="172.63" cy="511.92" r="1.55"/>
<circle cx="171.39" cy="513.52" r="1.55"/>
<circle cx="181.54" cy="515.91" r="1.55"/>
<circle cx="173.39" cy="516.92" r="1.55"/>
<circle cx="177.26" cy="519.12" r="1.55"/>
<circle cx="175.48" cy="521.54" r="1.55"/>
<circle cx="185.61" cy="522.29" r="1.55"/>
<circle cx="179.5" cy="523.8" r="1.55"/>
<circle cx="184.29" cy="525.86" r="1.55"/>
<circle cx="183.25" cy="448.41" r="1.55"/>
<circle cx="181.46" cy="449.75" r="1.55"/>
<circle cx="177.56" cy="452.58" r="1.55"/>
<circle cx="184.59" cy="454.92" r="1.55"/>
<circle cx="174.3" cy="455.76" r="1.55"/>
<circle cx="172.72" cy="458.25" r="1.55"/>
<circle cx="174.14" cy="459.74" r="1.55"/>
<circle cx="182.13" cy="462.03" r="1.55"/>
<circle cx="170.95" cy="464.53" r="1.55"/>
<circle cx="177.7" cy="466.34" r="1.55"/>
<circle cx="171.99" cy="468.45" r="1.55"/>
<circle cx="169.01" cy="469.95" r="1.55"/>
<circle cx="183.06" cy="473.68" r="1.55"/>
<circle cx="182.43" cy="474.05" r="1.55"/>
<circle cx="179.51" cy="477.73" r="1.55"/>
<circle cx="178.09" cy="478.17" r="1.55"/>
<circle cx="172.41" cy="480.81" r="1.55"/>
<circle cx="168.96" cy="483.05" r="1.55"/>
<circle cx="181.05" cy="485.77" r="1.55"/>
<circle cx="186.57" cy="487.28" r="1.55"/>
<circle cx="173.58" cy="489.36" r="1.55"/>
<circle cx="171.43" cy="374.13" r="1.55"/>
<circle cx="183.51" cy="379.69" r="1.55"/>
<circle cx="174.43" cy="390.93" r="1.55"/>
<circle cx="180.92" cy="393.45" r="1.55"/>
<circle cx="186.41" cy="402.67" r="1.55"/>
<circle cx="183.71" cy="404.8" r="1.55"/>
<circle cx="182.9" cy="412.95" r="1.55"/>
<circle cx="172.31" cy="415.54" r="1.55"/>
<circle cx="174.88" cy="421.92" r="1.55"/>
<circle cx="179.27" cy="424.31" r="1.55"/>
<circle cx="184.6" cy="428.1" r="1.55"/>
<circle cx="169.58" cy="431.16" r="1.55"/>
<circle cx="180.74" cy="435.17" r="1.55"/>
<circle cx="182.21" cy="438.44" r="1.55"/>
<circle cx="186.75" cy="440.89" r="1.55"/>
<circle cx="178.29" cy="442.14" r="1.55"/>
<circle cx="174.49" cy="443.36" r="1.55"/>
<circle cx="170.32" cy="445.3" r="1.55"/>
<circle cx="171.91" cy="446.37" r="1.55"/>
<circle cx="187.23" cy="446.89" r="1.55"/>
<circle cx="169.56" cy="447.17" r="1.55"/>
<circle cx="177.94" cy="372.2" r="1.55"/>
<circle cx="176.44" cy="622.9" r="1.55"/>
</g>
<g fill="#1E88E5" fill-opacity="0.24" stroke="#1E88E5" stroke-opacity="0.3" stroke-width="0.6">
<circle cx="204.35" cy="533.8" r="1.55"/>
<circle cx="220.55" cy="534.34" r="1.55"/>
<circle cx="212.38" cy="535.19" r="1.55"/>
<circle cx="216.87" cy="535.83" r="1.55"/>
<circle cx="212.3" cy="537.68" r="1.55"/>
<circle cx="212.64" cy="539.3" r="1.55"/>
<circle cx="220" cy="542.34" r="1.55"/>
<circle cx="207.42" cy="545.79" r="1.55"/>
<circle cx="212.72" cy="547.22" r="1.55"/>
<circle cx="210.91" cy="551.55" r="1.55"/>
<circle cx="205.92" cy="554.14" r="1.55"/>
<circle cx="213.05" cy="558.84" r="1.55"/>
<circle cx="221.57" cy="566.35" r="1.55"/>
<circle cx="222.81" cy="571.08" r="1.55"/>
<circle cx="216.08" cy="577.19" r="1.55"/>
<circle cx="205.44" cy="582.37" r="1.55"/>
<circle cx="215.87" cy="587.94" r="1.55"/>
<circle cx="215.15" cy="592.32" r="1.55"/>
<circle cx="213.43" cy="603.58" r="1.55"/>
<circle cx="209.99" cy="609.04" r="1.55"/>
<circle cx="221.12" cy="614.72" r="1.55"/>
<circle cx="207.89" cy="493.74" r="1.55"/>
<circle cx="212.8" cy="496.77" r="1.55"/>
<circle cx="216.85" cy="497.66" r="1.55"/>
<circle cx="215.33" cy="500.06" r="1.55"/>
<circle cx="214.37" cy="502.05" r="1.55"/>
<circle cx="211.83" cy="504.21" r="1.55"/>
<circle cx="207.73" cy="505.35" r="1.55"/>
<circle cx="214.71" cy="508.59" r="1.55"/>
<circle cx="220.68" cy="509.16" r="1.55"/>
<circle cx="206.1" cy="511.32" r="1.55"/>
<circle cx="209.08" cy="513.7" r="1.55"/>
<circle cx="214.83" cy="515.54" r="1.55"/>
<circle cx="215.18" cy="517" r="1.55"/>
<circle cx="214.05" cy="518.71" r="1.55"/>
<circle cx="205.82" cy="521.44" r="1.55"/>
<circle cx="205.7" cy="523.04" r="1.55"/>
<circle cx="220.71" cy="525" r="1.55"/>
<circle cx="217.88" cy="527.1" r="1.55"/>
<circle cx="206.48" cy="529.37" r="1.55"/>
<circle cx="218.01" cy="531.68" r="1.55"/>
<circle cx="220.07" cy="532.06" r="1.55"/>
<circle cx="207.55" cy="443.48" r="1.55"/>
<circle cx="215" cy="447.16" r="1.55"/>
<circle cx="206.9" cy="449.19" r="1.55"/>
<circle cx="205.39" cy="451.62" r="1.55"/>
<circle cx="211.37" cy="452.87" r="1.55"/>
<circle cx="215.59" cy="454.82" r="1.55"/>
<circle cx="210" cy="457.69" r="1.55"/>
<circle cx="212.39" cy="461.2" r="1.55"/>
<circle cx="216.1" cy="464.03" r="1.55"/>
<circle cx="215" cy="466.43" r="1.55"/>
<circle cx="220.84" cy="468.96" r="1.55"/>
<circle cx="218.46" cy="469.76" r="1.55"/>
<circle cx="218.81" cy="472.57" r="1.55"/>
<circle cx="219.99" cy="475.75" r="1.55"/>
<circle cx="211.39" cy="476.96" r="1.55"/>
<circle cx="222.31" cy="480.74" r="1.55"/>
<circle cx="205.13" cy="483.14" r="1.55"/>
<circle cx="206.19" cy="485.31" r="1.55"/>
<circle cx="219.56" cy="487.62" r="1.55"/>
<circle cx="221.88" cy="489.1" r="1.55"/>
<circle cx="209.14" cy="492.77" r="1.55"/>
<circle cx="212.79" cy="374.87" r="1.55"/>
<circle cx="215.35" cy="384.76" r="1.55"/>
<circle cx="204.7" cy="386.84" r="1.55"/>
<circle cx="219.51" cy="392.57" r="1.55"/>
<circle cx="214.83" cy="398.36" r="1.55"/>
<circle cx="217.36" cy="403.93" r="1.55"/>
<circle cx="207.04" cy="409.07" r="1.55"/>
<circle cx="214.53" cy="415.35" r="1.55"/>
<circle cx="219.66" cy="418.68" r="1.55"/>
<circle cx="204.56" cy="423.21" r="1.55"/>
<circle cx="207.17" cy="424.76" r="1.55"/>
<circle cx="220.89" cy="428.36" r="1.55"/>
<circle cx="204.97" cy="431.89" r="1.55"/>
<circle cx="219.85" cy="433" r="1.55"/>
<circle cx="211.76" cy="436.2" r="1.55"/>
<circle cx="207.31" cy="437.72" r="1.55"/>
<circle cx="211.77" cy="439.75" r="1.55"/>
<circle cx="215.91" cy="440.93" r="1.55"/>
<circle cx="210.56" cy="441.2" r="1.55"/>
<circle cx="221.29" cy="442.02" r="1.55"/>
<circle cx="205.13" cy="442.47" r="1.55"/>
<circle cx="211.82" cy="373.4" r="1.55"/>
<circle cx="212.97" cy="619.9" r="1.55"/>
</g>
<rect x="45.5" y="352" width="207" height="293" fill="none" stroke="#3d3d3d" stroke-width="1.25"/>
<line x1="41.3" x2="45.5" y1="632" y2="632" stroke="#3d3d3d" stroke-width="1.4"/>
<text transform="translate(37.9,636.7) scale(1,1.045)" font-size="13.0" fill="#4D4D4D" text-anchor="end">0.0</text>
<line x1="41.3" x2="45.5" y1="578.68" y2="578.68" stroke="#3d3d3d" stroke-width="1.4"/>
<text transform="translate(37.9,583.38) scale(1,1.045)" font-size="13.0" fill="#4D4D4D" text-anchor="end">0.2</text>
<line x1="41.3" x2="45.5" y1="525.36" y2="525.36" stroke="#3d3d3d" stroke-width="1.4"/>
<text transform="translate(37.9,530.06) scale(1,1.045)" font-size="13.0" fill="#4D4D4D" text-anchor="end">0.4</text>
<line x1="41.3" x2="45.5" y1="472.04" y2="472.04" stroke="#3d3d3d" stroke-width="1.4"/>
<text transform="translate(37.9,476.74) scale(1,1.045)" font-size="13.0" fill="#4D4D4D" text-anchor="end">0.6</text>
<line x1="41.3" x2="45.5" y1="418.72" y2="418.72" stroke="#3d3d3d" stroke-width="1.4"/>
<text transform="translate(37.9,423.42) scale(1,1.045)" font-size="13.0" fill="#4D4D4D" text-anchor="end">0.8</text>
<line x1="41.3" x2="45.5" y1="365.4" y2="365.4" stroke="#3d3d3d" stroke-width="1.4"/>
<text transform="translate(37.9,370.1) scale(1,1.045)" font-size="13.0" fill="#4D4D4D" text-anchor="end">1.0</text>
<line x1="101.8" x2="101.8" y1="645" y2="649.2" stroke="#3d3d3d" stroke-width="1.4"/>
<text transform="translate(101.8,661.9) scale(1,1.045)" font-size="12.95" fill="#4D4D4D" text-anchor="middle">No Delay</text>
<line x1="196.05" x2="196.05" y1="645" y2="649.2" stroke="#3d3d3d" stroke-width="1.4"/>
<text transform="translate(196.05,661.9) scale(1,1.045)" font-size="12.95" fill="#4D4D4D" text-anchor="middle">Delay</text>
<rect x="261.5" y="327.55" width="207" height="24.45" fill="#D9D9D9" stroke="#3d3d3d" stroke-width="1.25"/>
<text transform="translate(365,345.05) scale(1,1.045)" font-size="12.95" fill="#1A1A1A" text-anchor="middle">Pleasant</text>
<line x1="261.5" x2="468.5" y1="605.34" y2="605.34" stroke="#F2F2F2" stroke-width="0.7"/>
<line x1="261.5" x2="468.5" y1="552.02" y2="552.02" stroke="#F2F2F2" stroke-width="0.7"/>
<line x1="261.5" x2="468.5" y1="498.7" y2="498.7" stroke="#F2F2F2" stroke-width="0.7"/>
<line x1="261.5" x2="468.5" y1="445.38" y2="445.38" stroke="#F2F2F2" stroke-width="0.7"/>
<line x1="261.5" x2="468.5" y1="392.06" y2="392.06" stroke="#F2F2F2" stroke-width="0.7"/>
<line x1="261.5" x2="468.5" y1="632" y2="632" stroke="#EBEBEB" stroke-width="1.3"/>
<line x1="261.5" x2="468.5" y1="578.68" y2="578.68" stroke="#EBEBEB" stroke-width="1.3"/>
<line x1="261.5" x2="468.5" y1="525.36" y2="525.36" stroke="#EBEBEB" stroke-width="1.3"/>
<line x1="261.5" x2="468.5" y1="472.04" y2="472.04" stroke="#EBEBEB" stroke-width="1.3"/>
<line x1="261.5" x2="468.5" y1="418.72" y2="418.72" stroke="#EBEBEB" stroke-width="1.3"/>
<line x1="261.5" x2="468.5" y1="365.4" y2="365.4" stroke="#EBEBEB" stroke-width="1.3"/>
<line x1="317.8" x2="317.8" y1="352" y2="645" stroke="#EBEBEB" stroke-width="1.3"/>
<line x1="412.05" x2="412.05" y1="352" y2="645" stroke="#EBEBEB" stroke-width="1.3"/>
<g stroke="#D81B60" fill="none" stroke-width="0.95">
<line x1="300.05" x2="300.05" y1="368.7" y2="429.4"/>
<line x1="300.05" x2="300.05" y1="503.2" y2="606"/>
<rect x="284.05" y="429.4" width="32" height="73.8" fill="#fff"/>
<line x1="284.05" x2="316.05" y1="473" y2="473" stroke-width="1.8"/>
</g>
<g stroke="#1E88E5" fill="none" stroke-width="0.95">
<line x1="335.55" x2="335.55" y1="367.2" y2="422.6"/>
<line x1="335.55" x2="335.55" y1="500" y2="610.5"/>
<rect x="319.55" y="422.6" width="32" height="77.4" fill="#fff"/>
<line x1="319.55" x2="351.55" y1="456.5" y2="456.5" stroke-width="1.8"/>
</g>
<g stroke="#D81B60" fill="none" stroke-width="0.95">
<line x1="394.3" x2="394.3" y1="369" y2="452.6"/>
<line x1="394.3" x2="394.3" y1="554.9" y2="626.1"/>
<rect x="378.3" y="452.6" width="32" height="102.3" fill="#fff"/>
<line x1="378.3" x2="410.3" y1="490.2" y2="490.2" stroke-width="1.8"/>
</g>
<g stroke="#1E88E5" fill="none" stroke-width="0.95">
<line x1="429.8" x2="429.8" y1="377.7" y2="461.8"/>
<line x1="429.8" x2="429.8" y1="554" y2="623.9"/>
<rect x="413.8" y="461.8" width="32" height="92.2" fill="#fff"/>
<line x1="413.8" x2="445.8" y1="514" y2="514" stroke-width="1.8"/>
</g>
<g fill="#D81B60" fill-opacity="0.24" stroke="#D81B60" stroke-opacity="0.3" stroke-width="0.6">
<circle cx="301.51" cy="503.26" r="1.55"/>
<circle cx="297.27" cy="503.7" r="1.55"/>
<circle cx="301.55" cy="504.29" r="1.55"/>
<circle cx="290.94" cy="506.08" r="1.55"/>
<circle cx="309.29" cy="508.32" r="1.55"/>
<circle cx="293.32" cy="509.86" r="1.55"/>
<circle cx="295.73" cy="514.58" r="1.55"/>
<circle cx="300.05" cy="516.88" r="1.55"/>
<circle cx="301.36" cy="520.84" r="1.55"/>
<circle cx="308.73" cy="526.52" r="1.55"/>
<circle cx="291.2" cy="533.98" r="1.55"/>
<circle cx="305.2" cy="537.51" r="1.55"/>
<circle cx="305.26" cy="545.54" r="1.55"/>
<circle cx="302.61" cy="550.87" r="1.55"/>
<circle cx="295.9" cy="556.32" r="1.55"/>
<circle cx="307.13" cy="567.08" r="1.55"/>
<circle cx="303.5" cy="576.56" r="1.55"/>
<circle cx="305.05" cy="580.33" r="1.55"/>
<circle cx="300.22" cy="593.22" r="1.55"/>
<circle cx="297.21" cy="602.15" r="1.55"/>
<circle cx="298.26" cy="473.78" r="1.55"/>
<circle cx="296.96" cy="474.59" r="1.55"/>
<circle cx="309.33" cy="476.37" r="1.55"/>
<circle cx="297.53" cy="478.01" r="1.55"/>
<circle cx="295.01" cy="479.14" r="1.55"/>
<circle cx="293.13" cy="480.71" r="1.55"/>
<circle cx="307.1" cy="481.71" r="1.55"/>
<circle cx="299.01" cy="483.73" r="1.55"/>
<circle cx="296.3" cy="485.31" r="1.55"/>
<circle cx="291.81" cy="486.23" r="1.55"/>
<circle cx="296.41" cy="487.84" r="1.55"/>
<circle cx="301.02" cy="489.83" r="1.55"/>
<circle cx="297.02" cy="491.54" r="1.55"/>
<circle cx="301.63" cy="492.96" r="1.55"/>
<circle cx="293.95" cy="493.31" r="1.55"/>
<circle cx="309.31" cy="495.39" r="1.55"/>
<circle cx="305.26" cy="496.54" r="1.55"/>
<circle cx="307.05" cy="498.07" r="1.55"/>
<circle cx="299.76" cy="499.05" r="1.55"/>
<circle cx="295.79" cy="501.56" r="1.55"/>
<circle cx="290.99" cy="502.17" r="1.55"/>
<circle cx="295.64" cy="429.81" r="1.55"/>
<circle cx="294.7" cy="432.9" r="1.55"/>
<circle cx="294.36" cy="434.4" r="1.55"/>
<circle cx="306.97" cy="436.86" r="1.55"/>
<circle cx="294.29" cy="439.02" r="1.55"/>
<circle cx="308.85" cy="441.26" r="1.55"/>
<circle cx="292.06" cy="443.08" r="1.55"/>
<circle cx="307.18" cy="445.55" r="1.55"/>
<circle cx="293.15" cy="446.75" r="1.55"/>
<circle cx="300.75" cy="448.54" r="1.55"/>
<circle cx="302.71" cy="451.9" r="1.55"/>
<circle cx="294.58" cy="454.07" r="1.55"/>
<circle cx="304.79" cy="455.03" r="1.55"/>
<circle cx="298.25" cy="457.71" r="1.55"/>
<circle cx="296.97" cy="459.84" r="1.55"/>
<circle cx="298.42" cy="460.75" r="1.55"/>
<circle cx="302.45" cy="462.81" r="1.55"/>
<circle cx="299.94" cy="465.42" r="1.55"/>
<circle cx="295.43" cy="467.99" r="1.55"/>
<circle cx="290.81" cy="469.82" r="1.55"/>
<circle cx="301.27" cy="472.76" r="1.55"/>
<circle cx="291.61" cy="374.01" r="1.55"/>
<circle cx="304.31" cy="377.61" r="1.55"/>
<circle cx="292.33" cy="381.51" r="1.55"/>
<circle cx="293.26" cy="385.74" r="1.55"/>
<circle cx="292.26" cy="393.01" r="1.55"/>
<circle cx="298.59" cy="397.53" r="1.55"/>
<circle cx="301.73" cy="400.6" r="1.55"/>
<circle cx="303.04" cy="404.5" r="1.55"/>
<circle cx="296.84" cy="408.21" r="1.55"/>
<circle cx="295.45" cy="411.88" r="1.55"/>
<circle cx="305.05" cy="414.77" r="1.55"/>
<circle cx="296.43" cy="417.62" r="1.55"/>
<circle cx="309.12" cy="420.02" r="1.55"/>
<circle cx="295.84" cy="421.57" r="1.55"/>
<circle cx="308.43" cy="423.62" r="1.55"/>
<circle cx="290.72" cy="424.72" r="1.55"/>
<circle cx="303" cy="426.59" r="1.55"/>
<circle cx="297.44" cy="427.94" r="1.55"/>
<circle cx="294.89" cy="428.82" r="1.55"/>
<circle cx="292.26" cy="429.18" r="1.55"/>
<circle cx="293.1" cy="429.28" r="1.55"/>
<circle cx="297.41" cy="368.7" r="1.55"/>
<circle cx="300.06" cy="606" r="1.55"/>
<circle cx="299.4" cy="615.5" r="1.55"/>
</g>
<g fill="#1E88E5" fill-opacity="0.24" stroke="#1E88E5" stroke-opacity="0.3" stroke-width="0.6">
<circle cx="329.5" cy="500.08" r="1.55"/>
<circle cx="333" cy="500.99" r="1.55"/>
<circle cx="329.42" cy="501.32" r="1.55"/>
<circle cx="343.56" cy="503.81" r="1.55"/>
<circle cx="326.6" cy="504.86" r="1.55"/>
<circle cx="330.66" cy="509.13" r="1.55"/>
<circle cx="335.53" cy="513.28" r="1.55"/>
<circle cx="332.59" cy="516.05" r="1.55"/>
<circle cx="334.79" cy="521.25" r="1.55"/>
<circle cx="343.22" cy="524.11" r="1.55"/>
<circle cx="339.98" cy="528.44" r="1.55"/>
<circle cx="338.31" cy="534.09" r="1.55"/>
<circle cx="342.47" cy="542.56" r="1.55"/>
<circle cx="336.77" cy="547.44" r="1.55"/>
<circle cx="343.51" cy="557.43" r="1.55"/>
<circle cx="337.97" cy="569.84" r="1.55"/>
<circle cx="330.84" cy="572.96" r="1.55"/>
<circle cx="334.29" cy="582.55" r="1.55"/>
<circle cx="329.91" cy="592.09" r="1.55"/>
<circle cx="338.26" cy="607.57" r="1.55"/>
<circle cx="344.94" cy="457.16" r="1.55"/>
<circle cx="336.87" cy="459.08" r="1.55"/>
<circle cx="342.45" cy="461.04" r="1.55"/>
<circle cx="331.13" cy="464.44" r="1.55"/>
<circle cx="341.68" cy="466.29" r="1.55"/>
<circle cx="332.35" cy="467.49" r="1.55"/>
<circle cx="342.98" cy="469.94" r="1.55"/>
<circle cx="339.02" cy="471.4" r="1.55"/>
<circle cx="334.66" cy="474.29" r="1.55"/>
<circle cx="342.82" cy="476.33" r="1.55"/>
<circle cx="342.84" cy="477.71" r="1.55"/>
<circle cx="340.87" cy="480.06" r="1.55"/>
<circle cx="329.51" cy="483.07" r="1.55"/>
<circle cx="344.95" cy="485.14" r="1.55"/>
<circle cx="326.51" cy="486.16" r="1.55"/>
<circle cx="344.56" cy="487.88" r="1.55"/>
<circle cx="343.37" cy="489.76" r="1.55"/>
<circle cx="340.03" cy="492.1" r="1.55"/>
<circle cx="329.26" cy="494.07" r="1.55"/>
<circle cx="327.76" cy="497.23" r="1.55"/>
<circle cx="343.5" cy="498.67" r="1.55"/>
<circle cx="342.81" cy="423.72" r="1.55"/>
<circle cx="326.68" cy="425.72" r="1.55"/>
<circle cx="341.1" cy="426.25" r="1.55"/>
<circle cx="326.77" cy="428.53" r="1.55"/>
<circle cx="330.45" cy="429.87" r="1.55"/>
<circle cx="328.04" cy="431.38" r="1.55"/>
<circle cx="344.87" cy="432.4" r="1.55"/>
<circle cx="342.74" cy="434.44" r="1.55"/>
<circle cx="335.31" cy="435.77" r="1.55"/>
<circle cx="334.19" cy="437.41" r="1.55"/>
<circle cx="339.07" cy="439.08" r="1.55"/>
<circle cx="340.08" cy="440.65" r="1.55"/>
<circle cx="328.18" cy="442.78" r="1.55"/>
<circle cx="335.48" cy="444.18" r="1.55"/>
<circle cx="332.69" cy="446.62" r="1.55"/>
<circle cx="344.43" cy="447.21" r="1.55"/>
<circle cx="339.95" cy="449.79" r="1.55"/>
<circle cx="329.42" cy="450.52" r="1.55"/>
<circle cx="327.36" cy="452.12" r="1.55"/>
<circle cx="335.72" cy="453.41" r="1.55"/>
<circle cx="336.63" cy="455.56" r="1.55"/>
<circle cx="326.25" cy="369.17" r="1.55"/>
<circle cx="338.46" cy="375.66" r="1.55"/>
<circle cx="336.48" cy="379.79" r="1.55"/>
<circle cx="344.71" cy="384.88" r="1.55"/>
<circle cx="339.69" cy="389.78" r="1.55"/>
<circle cx="332.1" cy="392.06" r="1.55"/>
<circle cx="344.54" cy="395.92" r="1.55"/>
<circle cx="333.37" cy="399.36" r="1.55"/>
<circle cx="328.77" cy="402.72" r="1.55"/>
<circle cx="326.15" cy="407.26" r="1.55"/>
<circle cx="343.65" cy="409" r="1.55"/>
<circle cx="337.66" cy="410.73" r="1.55"/>
<circle cx="330.62" cy="413.29" r="1.55"/>
<circle cx="328.26" cy="415.01" r="1.55"/>
<circle cx="340.95" cy="417.78" r="1.55"/>
<circle cx="326.99" cy="419.29" r="1.55"/>
<circle cx="332.21" cy="420.25" r="1.55"/>
<circle cx="336.48" cy="421.17" r="1.55"/>
<circle cx="344.51" cy="421.71" r="1.55"/>
<circle cx="340.23" cy="422.12" r="1.55"/>
<circle cx="335.74" cy="422.6" r="1.55"/>
<circle cx="336.1" cy="367.2" r="1.55"/>
<circle cx="338.52" cy="610.5" r="1.55"/>
<circle cx="328.3" cy="618.8" r="1.55"/>
</g>
<g fill="#D81B60" fill-opacity="0.24" stroke="#D81B60" stroke-opacity="0.3" stroke-width="0.6">
<circle cx="396.76" cy="554.91" r="1.55"/>
<circle cx="392" cy="555.38" r="1.55"/>
<circle cx="392.28" cy="556.07" r="1.55"/>
<circle cx="396.44" cy="556.9" r="1.55"/>
<circle cx="390.92" cy="558.41" r="1.55"/>
<circle cx="395.12" cy="559.99" r="1.55"/>
<circle cx="396.44" cy="561.21" r="1.55"/>
<circle cx="402.07" cy="563.48" r="1.55"/>
<circle cx="398.51" cy="566.5" r="1.55"/>
<circle cx="393.86" cy="569.53" r="1.55"/>
<circle cx="387.5" cy="571.86" r="1.55"/>
<circle cx="394.85" cy="577.7" r="1.55"/>
<circle cx="394.82" cy="580.21" r="1.55"/>
<circle cx="389.33" cy="585.57" r="1.55"/>
<circle cx="400.42" cy="587.48" r="1.55"/>
<circle cx="396.97" cy="593.51" r="1.55"/>
<circle cx="401.79" cy="600.44" r="1.55"/>
<circle cx="385.62" cy="606.23" r="1.55"/>
<circle cx="400.61" cy="609.52" r="1.55"/>
<circle cx="387.14" cy="618.11" r="1.55"/>
<circle cx="389.58" cy="620.7" r="1.55"/>
<circle cx="391.58" cy="490.64" r="1.55"/>
<circle cx="394.71" cy="495.66" r="1.55"/>
<circle cx="386.47" cy="497.77" r="1.55"/>
<circle cx="403.74" cy="500.69" r="1.55"/>
<circle cx="393.34" cy="504.61" r="1.55"/>
<circle cx="399.97" cy="507.09" r="1.55"/>
<circle cx="387.65" cy="510.94" r="1.55"/>
<circle cx="391.77" cy="513.81" r="1.55"/>
<circle cx="389.31" cy="516.45" r="1.55"/>
<circle cx="391.26" cy="519.11" r="1.55"/>
<circle cx="385.14" cy="522.22" r="1.55"/>
<circle cx="395.64" cy="524.8" r="1.55"/>
<circle cx="388.19" cy="527.49" r="1.55"/>
<circle cx="390.02" cy="532.4" r="1.55"/>
<circle cx="389.39" cy="534.39" r="1.55"/>
<circle cx="386.54" cy="538.88" r="1.55"/>
<circle cx="401.12" cy="541.41" r="1.55"/>
<circle cx="392.84" cy="543.29" r="1.55"/>
<circle cx="396.54" cy="548.01" r="1.55"/>
<circle cx="385.63" cy="549.92" r="1.55"/>
<circle cx="391.78" cy="553.2" r="1.55"/>
<circle cx="390.41" cy="453.84" r="1.55"/>
<circle cx="397.12" cy="455.14" r="1.55"/>
<circle cx="391.49" cy="457.58" r="1.55"/>
<circle cx="395.8" cy="458.68" r="1.55"/>
<circle cx="388.44" cy="461.34" r="1.55"/>
<circle cx="398.33" cy="463.21" r="1.55"/>
<circle cx="397.45" cy="464.03" r="1.55"/>
<circle cx="386.14" cy="465.75" r="1.55"/>
<circle cx="392.01" cy="468.23" r="1.55"/>
<circle cx="394.24" cy="469.65" r="1.55"/>
<circle cx="399.18" cy="472.05" r="1.55"/>
<circle cx="396.06" cy="472.43" r="1.55"/>
<circle cx="393.58" cy="474.92" r="1.55"/>
<circle cx="392.68" cy="477.32" r="1.55"/>
<circle cx="401.72" cy="478.52" r="1.55"/>
<circle cx="394.13" cy="480.26" r="1.55"/>
<circle cx="400.47" cy="482.16" r="1.55"/>
<circle cx="398.87" cy="484.21" r="1.55"/>
<circle cx="385.57" cy="485.57" r="1.55"/>
<circle cx="395.32" cy="487.8" r="1.55"/>
<circle cx="399.43" cy="489.74" r="1.55"/>
<circle cx="388.99" cy="370.24" r="1.55"/>
<circle cx="400.33" cy="377.68" r="1.55"/>
<circle cx="386.48" cy="385.18" r="1.55"/>
<circle cx="395.52" cy="396.05" r="1.55"/>
<circle cx="397.74" cy="398.45" r="1.55"/>
<circle cx="393.97" cy="408.17" r="1.55"/>
<circle cx="397.93" cy="410.51" r="1.55"/>
<circle cx="395.89" cy="417.67" r="1.55"/>
<circle cx="400.32" cy="425.07" r="1.55"/>
<circle cx="387.56" cy="428.97" r="1.55"/>
<circle cx="394.65" cy="431.1" r="1.55"/>
<circle cx="403.58" cy="433.85" r="1.55"/>
<circle cx="389.78" cy="438.24" r="1.55"/>
<circle cx="389.65" cy="441.45" r="1.55"/>
<circle cx="395.36" cy="445.37" r="1.55"/>
<circle cx="392.78" cy="446.89" r="1.55"/>
<circle cx="390.59" cy="448.04" r="1.55"/>
<circle cx="400.04" cy="450.7" r="1.55"/>
<circle cx="389.68" cy="451.7" r="1.55"/>
<circle cx="385.79" cy="452.01" r="1.55"/>
<circle cx="391.9" cy="452.56" r="1.55"/>
<circle cx="394.09" cy="369" r="1.55"/>
<circle cx="394.23" cy="626.1" r="1.55"/>
</g>
<g fill="#1E88E5" fill-opacity="0.24" stroke="#1E88E5" stroke-opacity="0.3" stroke-width="0.6">
<circle cx="427.25" cy="554.05" r="1.55"/>
<circle cx="424.11" cy="554.5" r="1.55"/>
<circle cx="430.87" cy="555.31" r="1.55"/>
<circle cx="426.27" cy="555.52" r="1.55"/>
<circle cx="428.07" cy="557.25" r="1.55"/>
<circle cx="426.45" cy="558.9" r="1.55"/>
<circle cx="435.43" cy="560.28" r="1.55"/>
<circle cx="433.8" cy="562.48" r="1.55"/>
<circle cx="431.55" cy="566.2" r="1.55"/>
<circle cx="438.06" cy="568.18" r="1.55"/>
<circle cx="436.98" cy="571.31" r="1.55"/>
<circle cx="428.54" cy="573.54" r="1.55"/>
<circle cx="421.23" cy="579.27" r="1.55"/>
<circle cx="421.67" cy="584.3" r="1.55"/>
<circle cx="423.72" cy="587.72" r="1.55"/>
<circle cx="430.96" cy="593.97" r="1.55"/>
<circle cx="429.77" cy="598.58" r="1.55"/>
<circle cx="433.12" cy="603.41" r="1.55"/>
<circle cx="424.31" cy="607.17" r="1.55"/>
<circle cx="423.07" cy="616.17" r="1.55"/>
<circle cx="424.23" cy="623.08" r="1.55"/>
<circle cx="422.11" cy="514.27" r="1.55"/>
<circle cx="438.37" cy="517.34" r="1.55"/>
<circle cx="432.82" cy="518.62" r="1.55"/>
<circle cx="437.51" cy="520.25" r="1.55"/>
<circle cx="423.24" cy="522.89" r="1.55"/>
<circle cx="433.52" cy="523.72" r="1.55"/>
<circle cx="436.19" cy="525.6" r="1.55"/>
<circle cx="424.72" cy="527.93" r="1.55"/>
<circle cx="426.36" cy="530.33" r="1.55"/>
<circle cx="423.23" cy="532.2" r="1.55"/>
<circle cx="426.46" cy="534.71" r="1.55"/>
<circle cx="423.19" cy="536.49" r="1.55"/>
<circle cx="438.92" cy="538.32" r="1.55"/>
<circle cx="420.93" cy="539.53" r="1.55"/>
<circle cx="432.47" cy="541.41" r="1.55"/>
<circle cx="430.67" cy="543.05" r="1.55"/>
<circle cx="429.12" cy="544.73" r="1.55"/>
<circle cx="428.47" cy="547.72" r="1.55"/>
<circle cx="422.47" cy="549.54" r="1.55"/>
<circle cx="422.62" cy="551.71" r="1.55"/>
<circle cx="439.23" cy="553.77" r="1.55"/>
<circle cx="430.3" cy="464.03" r="1.55"/>
<circle cx="426.91" cy="465.06" r="1.55"/>
<circle cx="429.73" cy="468.57" r="1.55"/>
<circle cx="422.07" cy="471.46" r="1.55"/>
<circle cx="436.72" cy="472.95" r="1.55"/>
<circle cx="430.57" cy="475.69" r="1.55"/>
<circle cx="422.95" cy="477.04" r="1.55"/>
<circle cx="437.27" cy="479.93" r="1.55"/>
<circle cx="424.62" cy="483.7" r="1.55"/>
<circle cx="420.92" cy="486.36" r="1.55"/>
<circle cx="438.68" cy="488.12" r="1.55"/>
<circle cx="438.24" cy="490.04" r="1.55"/>
<circle cx="421.25" cy="493.22" r="1.55"/>
<circle cx="428.84" cy="494.98" r="1.55"/>
<circle cx="434.4" cy="497.28" r="1.55"/>
<circle cx="435.27" cy="499.61" r="1.55"/>
<circle cx="421.62" cy="502.36" r="1.55"/>
<circle cx="422.12" cy="505.43" r="1.55"/>
<circle cx="435.27" cy="507.9" r="1.55"/>
<circle cx="429.07" cy="510.49" r="1.55"/>
<circle cx="430.05" cy="511.71" r="1.55"/>
<circle cx="432.59" cy="378.8" r="1.55"/>
<circle cx="431.28" cy="386.8" r="1.55"/>
<circle cx="427.42" cy="395.59" r="1.55"/>
<circle cx="423.41" cy="404.37" r="1.55"/>
<circle cx="438.19" cy="407.99" r="1.55"/>
<circle cx="436.3" cy="415.08" r="1.55"/>
<circle cx="429.42" cy="423.54" r="1.55"/>
<circle cx="422.09" cy="425.4" r="1.55"/>
<circle cx="422.52" cy="433.61" r="1.55"/>
<circle cx="430.48" cy="436.56" r="1.55"/>
<circle cx="429.19" cy="439.37" r="1.55"/>
<circle cx="430.47" cy="443.48" r="1.55"/>
<circle cx="427.27" cy="448.04" r="1.55"/>
<circle cx="427.97" cy="450.28" r="1.55"/>
<circle cx="422.72" cy="453.07" r="1.55"/>
<circle cx="436.86" cy="455.53" r="1.55"/>
<circle cx="437.22" cy="457.94" r="1.55"/>
<circle cx="438.22" cy="458.85" r="1.55"/>
<circle cx="435.33" cy="460.6" r="1.55"/>
<circle cx="433.39" cy="461.41" r="1.55"/>
<circle cx="434.55" cy="461.69" r="1.55"/>
<circle cx="427.72" cy="377.7" r="1.55"/>
<circle cx="428.39" cy="623.9" r="1.55"/>
</g>
<rect x="261.5" y="352" width="207" height="293" fill="none" stroke="#3d3d3d" stroke-width="1.25"/>
<line x1="317.8" x2="317.8" y1="645" y2="649.2" stroke="#3d3d3d" stroke-width="1.4"/>
<text transform="translate(317.8,661.9) scale(1,1.045)" font-size="12.95" fill="#4D4D4D" text-anchor="middle">No Delay</text>
<line x1="412.05" x2="412.05" y1="645" y2="649.2" stroke="#3d3d3d" stroke-width="1.4"/>
<text transform="translate(412.05,661.9) scale(1,1.045)" font-size="12.95" fill="#4D4D4D" text-anchor="middle">Delay</text>
<text transform="translate(365,680.8) scale(1,1.045)" font-size="15.9" fill="#000" text-anchor="middle">Delay</text>
<text transform="translate(12.6,335.2) rotate(-90) scale(1,1.045)" font-size="16.2" fill="#000" text-anchor="middle">Mean Score (0-1)</text>
<text transform="translate(522.3,509.6) scale(1,1.045)" font-size="16.05" fill="#000">Source of Stroking</text>
<g stroke="#D81B60" fill="none" stroke-width="1.0">
<line x1="528.8" x2="528.8" y1="520" y2="531.8"/>
<rect x="523.2" y="522.15" width="11.2" height="7.5" fill="#fff"/>
<line x1="523.2" x2="534.4" y1="525.9" y2="525.9" stroke-width="1.9" stroke-opacity="0.45"/>
</g>
<circle cx="528.8" cy="525.9" r="1.7" fill="#D81B60" fill-opacity="0.35"/>
<text transform="translate(544.2,531.2) scale(1,1.045)" font-size="13.05" fill="#000">Other</text>
<g stroke="#1E88E5" fill="none" stroke-width="1.0">
<line x1="528.8" x2="528.8" y1="534.15" y2="545.95"/>
<rect x="523.2" y="536.3" width="11.2" height="7.5" fill="#fff"/>
<line x1="523.2" x2="534.4" y1="540.05" y2="540.05" stroke-width="1.9" stroke-opacity="0.45"/>
</g>
<circle cx="528.8" cy="540.05" r="1.7" fill="#1E88E5" fill-opacity="0.35"/>
<text transform="translate(544.2,545.35) scale(1,1.045)" font-size="13.05" fill="#000">Self</text>
</svg></body></html>
